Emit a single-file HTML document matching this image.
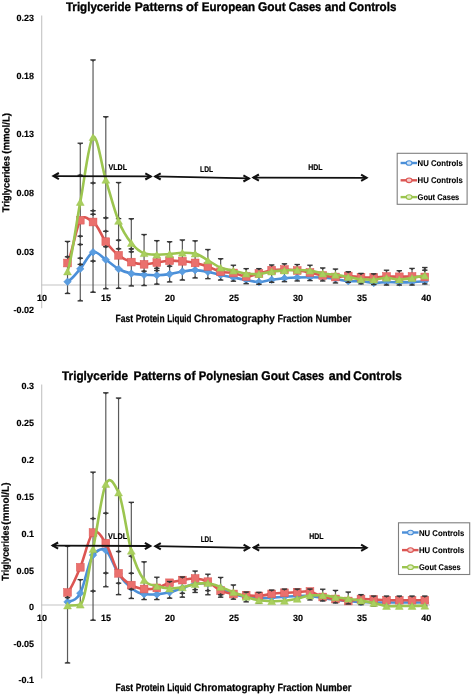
<!DOCTYPE html>
<html><head><meta charset="utf-8"><style>
html,body{margin:0;padding:0;background:#fff;}
body{width:472px;height:695px;overflow:hidden;}
svg{display:block;filter:blur(0.4px);}
text{font-family:"Liberation Sans", sans-serif;font-weight:bold;fill:#000;text-rendering:geometricPrecision;}
.tt{font-size:12.5px;stroke:#000;stroke-width:0.35px;}
.tk{font-size:9px;stroke:#000;stroke-width:0.15px;}
.lb{font-size:8.4px;stroke:#000;stroke-width:0.2px;}
.lg{font-size:8.4px;stroke:#000;stroke-width:0.1px;}
.ax{font-size:10.5px;stroke:#000;stroke-width:0.25px;}
.ay{font-size:10px;stroke:#000;stroke-width:0.25px;}
</style></head><body>
<svg width="472" height="695" viewBox="0 0 472 695">
<rect width="472" height="695" fill="#fff"/>
<line x1="41.7" y1="15.5" x2="41.7" y2="308.2" stroke="#c4c4c4" stroke-width="1.1"/>
<line x1="41.2" y1="285.0" x2="430" y2="285.0" stroke="#c4c4c4" stroke-width="1.1"/>
<text x="34.0" y="20.8" text-anchor="end" class="tk">0.23</text>
<text x="34.0" y="79.0" text-anchor="end" class="tk">0.18</text>
<text x="34.0" y="136.8" text-anchor="end" class="tk">0.13</text>
<text x="34.0" y="196.4" text-anchor="end" class="tk">0.08</text>
<text x="34.0" y="254.8" text-anchor="end" class="tk">0.03</text>
<text x="34.0" y="313.4" text-anchor="end" class="tk">-0.02</text>
<text x="42.0" y="300.7" text-anchor="middle" class="tk">10</text>
<text x="106.0" y="300.7" text-anchor="middle" class="tk">15</text>
<text x="170.0" y="300.7" text-anchor="middle" class="tk">20</text>
<text x="234.1" y="300.7" text-anchor="middle" class="tk">25</text>
<text x="298.1" y="300.7" text-anchor="middle" class="tk">30</text>
<text x="362.1" y="300.7" text-anchor="middle" class="tk">35</text>
<text x="426.2" y="300.7" text-anchor="middle" class="tk">40</text>
<line x1="67.52" y1="241.40" x2="67.52" y2="293.50" stroke="#5a5a5a" stroke-width="1.2"/>
<line x1="80.28" y1="143.20" x2="80.28" y2="300.90" stroke="#5a5a5a" stroke-width="1.2"/>
<line x1="93.04" y1="59.90" x2="93.04" y2="292.30" stroke="#5a5a5a" stroke-width="1.2"/>
<line x1="105.80" y1="116.70" x2="105.80" y2="288.80" stroke="#5a5a5a" stroke-width="1.2"/>
<line x1="118.56" y1="182.50" x2="118.56" y2="288.40" stroke="#5a5a5a" stroke-width="1.2"/>
<line x1="131.32" y1="218.70" x2="131.32" y2="286.00" stroke="#5a5a5a" stroke-width="1.2"/>
<line x1="144.08" y1="234.50" x2="144.08" y2="285.60" stroke="#5a5a5a" stroke-width="1.2"/>
<line x1="156.84" y1="240.60" x2="156.84" y2="284.20" stroke="#5a5a5a" stroke-width="1.2"/>
<line x1="169.60" y1="241.70" x2="169.60" y2="282.00" stroke="#5a5a5a" stroke-width="1.2"/>
<line x1="182.36" y1="239.90" x2="182.36" y2="280.10" stroke="#5a5a5a" stroke-width="1.2"/>
<line x1="195.12" y1="240.80" x2="195.12" y2="278.00" stroke="#5a5a5a" stroke-width="1.2"/>
<line x1="207.88" y1="249.50" x2="207.88" y2="278.70" stroke="#5a5a5a" stroke-width="1.2"/>
<line x1="220.64" y1="258.70" x2="220.64" y2="280.10" stroke="#5a5a5a" stroke-width="1.2"/>
<line x1="233.40" y1="265.20" x2="233.40" y2="281.20" stroke="#5a5a5a" stroke-width="1.2"/>
<line x1="246.16" y1="268.60" x2="246.16" y2="283.70" stroke="#5a5a5a" stroke-width="1.2"/>
<line x1="258.92" y1="268.60" x2="258.92" y2="284.40" stroke="#5a5a5a" stroke-width="1.2"/>
<line x1="271.68" y1="264.90" x2="271.68" y2="282.40" stroke="#5a5a5a" stroke-width="1.2"/>
<line x1="284.44" y1="263.80" x2="284.44" y2="281.70" stroke="#5a5a5a" stroke-width="1.2"/>
<line x1="297.20" y1="264.50" x2="297.20" y2="281.00" stroke="#5a5a5a" stroke-width="1.2"/>
<line x1="309.96" y1="265.20" x2="309.96" y2="280.60" stroke="#5a5a5a" stroke-width="1.2"/>
<line x1="322.72" y1="267.90" x2="322.72" y2="281.00" stroke="#5a5a5a" stroke-width="1.2"/>
<line x1="335.48" y1="269.00" x2="335.48" y2="283.00" stroke="#5a5a5a" stroke-width="1.2"/>
<line x1="348.24" y1="271.70" x2="348.24" y2="282.40" stroke="#5a5a5a" stroke-width="1.2"/>
<line x1="361.00" y1="273.40" x2="361.00" y2="283.90" stroke="#5a5a5a" stroke-width="1.2"/>
<line x1="373.76" y1="273.80" x2="373.76" y2="284.60" stroke="#5a5a5a" stroke-width="1.2"/>
<line x1="386.52" y1="270.20" x2="386.52" y2="285.10" stroke="#5a5a5a" stroke-width="1.2"/>
<line x1="399.28" y1="270.70" x2="399.28" y2="285.10" stroke="#5a5a5a" stroke-width="1.2"/>
<line x1="412.04" y1="268.40" x2="412.04" y2="285.10" stroke="#5a5a5a" stroke-width="1.2"/>
<line x1="424.80" y1="267.50" x2="424.80" y2="284.00" stroke="#5a5a5a" stroke-width="1.2"/>
<path d="M67.52,281.80 C71.77,279.63 76.03,273.73 80.28,268.80 C84.53,263.87 88.79,253.72 93.04,252.20 C97.29,250.68 101.55,256.90 105.80,259.70 C110.05,262.50 114.31,266.68 118.56,269.00 C122.81,271.32 127.07,272.63 131.32,273.60 C135.57,274.57 139.83,274.53 144.08,274.80 C148.33,275.07 152.59,275.32 156.84,275.20 C161.09,275.08 165.35,274.72 169.60,274.10 C173.85,273.48 178.11,272.17 182.36,271.50 C186.61,270.83 190.87,270.05 195.12,270.10 C199.37,270.15 203.63,270.98 207.88,271.80 C212.13,272.62 216.39,274.05 220.64,275.00 C224.89,275.95 229.15,276.67 233.40,277.50 C237.65,278.33 241.91,279.25 246.16,280.00 C250.41,280.75 254.67,282.03 258.92,282.00 C263.17,281.97 267.43,280.42 271.68,279.80 C275.93,279.18 280.19,278.68 284.44,278.30 C288.69,277.92 292.95,277.67 297.20,277.50 C301.45,277.33 305.71,277.30 309.96,277.30 C314.21,277.30 318.47,277.30 322.72,277.50 C326.97,277.70 331.23,278.38 335.48,279.00 C339.73,279.62 343.99,280.83 348.24,281.20 C352.49,281.57 356.75,280.90 361.00,281.20 C365.25,281.50 369.51,282.87 373.76,283.00 C378.01,283.13 382.27,282.10 386.52,282.00 C390.77,281.90 395.03,282.40 399.28,282.40 C403.53,282.40 407.79,282.18 412.04,282.00 C416.29,281.82 420.55,281.42 424.80,281.30" fill="none" stroke="#4b8fd8" stroke-width="2.6" stroke-linejoin="round"/>
<path d="M67.52,278.00 L71.32,281.80 L67.52,285.60 L63.72,281.80 Z" fill="#5a9de0" stroke="#4b8fd8" stroke-width="0.5"/>
<path d="M80.28,265.00 L84.08,268.80 L80.28,272.60 L76.48,268.80 Z" fill="#5a9de0" stroke="#4b8fd8" stroke-width="0.5"/>
<path d="M93.04,248.40 L96.84,252.20 L93.04,256.00 L89.24,252.20 Z" fill="#5a9de0" stroke="#4b8fd8" stroke-width="0.5"/>
<path d="M105.80,255.90 L109.60,259.70 L105.80,263.50 L102.00,259.70 Z" fill="#5a9de0" stroke="#4b8fd8" stroke-width="0.5"/>
<path d="M118.56,265.20 L122.36,269.00 L118.56,272.80 L114.76,269.00 Z" fill="#5a9de0" stroke="#4b8fd8" stroke-width="0.5"/>
<path d="M131.32,269.80 L135.12,273.60 L131.32,277.40 L127.52,273.60 Z" fill="#5a9de0" stroke="#4b8fd8" stroke-width="0.5"/>
<path d="M144.08,271.00 L147.88,274.80 L144.08,278.60 L140.28,274.80 Z" fill="#5a9de0" stroke="#4b8fd8" stroke-width="0.5"/>
<path d="M156.84,271.40 L160.64,275.20 L156.84,279.00 L153.04,275.20 Z" fill="#5a9de0" stroke="#4b8fd8" stroke-width="0.5"/>
<path d="M169.60,270.30 L173.40,274.10 L169.60,277.90 L165.80,274.10 Z" fill="#5a9de0" stroke="#4b8fd8" stroke-width="0.5"/>
<path d="M182.36,267.70 L186.16,271.50 L182.36,275.30 L178.56,271.50 Z" fill="#5a9de0" stroke="#4b8fd8" stroke-width="0.5"/>
<path d="M195.12,266.30 L198.92,270.10 L195.12,273.90 L191.32,270.10 Z" fill="#5a9de0" stroke="#4b8fd8" stroke-width="0.5"/>
<path d="M207.88,268.00 L211.68,271.80 L207.88,275.60 L204.08,271.80 Z" fill="#5a9de0" stroke="#4b8fd8" stroke-width="0.5"/>
<path d="M220.64,271.20 L224.44,275.00 L220.64,278.80 L216.84,275.00 Z" fill="#5a9de0" stroke="#4b8fd8" stroke-width="0.5"/>
<path d="M233.40,273.70 L237.20,277.50 L233.40,281.30 L229.60,277.50 Z" fill="#5a9de0" stroke="#4b8fd8" stroke-width="0.5"/>
<path d="M246.16,276.20 L249.96,280.00 L246.16,283.80 L242.36,280.00 Z" fill="#5a9de0" stroke="#4b8fd8" stroke-width="0.5"/>
<path d="M258.92,278.20 L262.72,282.00 L258.92,285.80 L255.12,282.00 Z" fill="#5a9de0" stroke="#4b8fd8" stroke-width="0.5"/>
<path d="M271.68,276.00 L275.48,279.80 L271.68,283.60 L267.88,279.80 Z" fill="#5a9de0" stroke="#4b8fd8" stroke-width="0.5"/>
<path d="M284.44,274.50 L288.24,278.30 L284.44,282.10 L280.64,278.30 Z" fill="#5a9de0" stroke="#4b8fd8" stroke-width="0.5"/>
<path d="M297.20,273.70 L301.00,277.50 L297.20,281.30 L293.40,277.50 Z" fill="#5a9de0" stroke="#4b8fd8" stroke-width="0.5"/>
<path d="M309.96,273.50 L313.76,277.30 L309.96,281.10 L306.16,277.30 Z" fill="#5a9de0" stroke="#4b8fd8" stroke-width="0.5"/>
<path d="M322.72,273.70 L326.52,277.50 L322.72,281.30 L318.92,277.50 Z" fill="#5a9de0" stroke="#4b8fd8" stroke-width="0.5"/>
<path d="M335.48,275.20 L339.28,279.00 L335.48,282.80 L331.68,279.00 Z" fill="#5a9de0" stroke="#4b8fd8" stroke-width="0.5"/>
<path d="M348.24,277.40 L352.04,281.20 L348.24,285.00 L344.44,281.20 Z" fill="#5a9de0" stroke="#4b8fd8" stroke-width="0.5"/>
<path d="M361.00,277.40 L364.80,281.20 L361.00,285.00 L357.20,281.20 Z" fill="#5a9de0" stroke="#4b8fd8" stroke-width="0.5"/>
<path d="M373.76,279.20 L377.56,283.00 L373.76,286.80 L369.96,283.00 Z" fill="#5a9de0" stroke="#4b8fd8" stroke-width="0.5"/>
<path d="M386.52,278.20 L390.32,282.00 L386.52,285.80 L382.72,282.00 Z" fill="#5a9de0" stroke="#4b8fd8" stroke-width="0.5"/>
<path d="M399.28,278.60 L403.08,282.40 L399.28,286.20 L395.48,282.40 Z" fill="#5a9de0" stroke="#4b8fd8" stroke-width="0.5"/>
<path d="M412.04,278.20 L415.84,282.00 L412.04,285.80 L408.24,282.00 Z" fill="#5a9de0" stroke="#4b8fd8" stroke-width="0.5"/>
<path d="M424.80,277.50 L428.60,281.30 L424.80,285.10 L421.00,281.30 Z" fill="#5a9de0" stroke="#4b8fd8" stroke-width="0.5"/>
<path d="M67.52,263.00 C71.77,255.87 76.03,227.03 80.28,220.20 C84.53,213.37 88.79,220.20 93.04,222.00 C97.29,223.80 101.55,236.15 105.80,241.70 C110.05,247.25 114.31,251.90 118.56,255.30 C122.81,258.70 127.07,260.60 131.32,262.10 C135.57,263.60 139.83,264.22 144.08,264.30 C148.33,264.38 152.59,263.20 156.84,262.60 C161.09,262.00 165.35,260.92 169.60,260.70 C173.85,260.48 178.11,260.93 182.36,261.30 C186.61,261.67 190.87,262.03 195.12,262.90 C199.37,263.77 203.63,265.02 207.88,266.50 C212.13,267.98 216.39,270.72 220.64,271.80 C224.89,272.88 229.15,272.22 233.40,273.00 C237.65,273.78 241.91,276.42 246.16,276.50 C250.41,276.58 254.67,274.55 258.92,273.50 C263.17,272.45 267.43,270.87 271.68,270.20 C275.93,269.53 280.19,269.45 284.44,269.50 C288.69,269.55 292.95,270.00 297.20,270.50 C301.45,271.00 305.71,271.67 309.96,272.50 C314.21,273.33 318.47,274.75 322.72,275.50 C326.97,276.25 331.23,276.92 335.48,277.00 C339.73,277.08 343.99,275.97 348.24,276.00 C352.49,276.03 356.75,277.00 361.00,277.20 C365.25,277.40 369.51,277.52 373.76,277.40 C378.01,277.28 382.27,276.60 386.52,276.50 C390.77,276.40 395.03,276.80 399.28,276.80 C403.53,276.80 407.79,276.47 412.04,276.50 C416.29,276.53 420.55,276.92 424.80,277.00" fill="none" stroke="#dc5552" stroke-width="2.6" stroke-linejoin="round"/>
<rect x="63.62" y="259.10" width="7.80" height="7.80" fill="#ea706d" stroke="#dc5552" stroke-width="0.5"/>
<rect x="76.38" y="216.30" width="7.80" height="7.80" fill="#ea706d" stroke="#dc5552" stroke-width="0.5"/>
<rect x="89.14" y="218.10" width="7.80" height="7.80" fill="#ea706d" stroke="#dc5552" stroke-width="0.5"/>
<rect x="101.90" y="237.80" width="7.80" height="7.80" fill="#ea706d" stroke="#dc5552" stroke-width="0.5"/>
<rect x="114.66" y="251.40" width="7.80" height="7.80" fill="#ea706d" stroke="#dc5552" stroke-width="0.5"/>
<rect x="127.42" y="258.20" width="7.80" height="7.80" fill="#ea706d" stroke="#dc5552" stroke-width="0.5"/>
<rect x="140.18" y="260.40" width="7.80" height="7.80" fill="#ea706d" stroke="#dc5552" stroke-width="0.5"/>
<rect x="152.94" y="258.70" width="7.80" height="7.80" fill="#ea706d" stroke="#dc5552" stroke-width="0.5"/>
<rect x="165.70" y="256.80" width="7.80" height="7.80" fill="#ea706d" stroke="#dc5552" stroke-width="0.5"/>
<rect x="178.46" y="257.40" width="7.80" height="7.80" fill="#ea706d" stroke="#dc5552" stroke-width="0.5"/>
<rect x="191.22" y="259.00" width="7.80" height="7.80" fill="#ea706d" stroke="#dc5552" stroke-width="0.5"/>
<rect x="203.98" y="262.60" width="7.80" height="7.80" fill="#ea706d" stroke="#dc5552" stroke-width="0.5"/>
<rect x="216.74" y="267.90" width="7.80" height="7.80" fill="#ea706d" stroke="#dc5552" stroke-width="0.5"/>
<rect x="229.50" y="269.10" width="7.80" height="7.80" fill="#ea706d" stroke="#dc5552" stroke-width="0.5"/>
<rect x="242.26" y="272.60" width="7.80" height="7.80" fill="#ea706d" stroke="#dc5552" stroke-width="0.5"/>
<rect x="255.02" y="269.60" width="7.80" height="7.80" fill="#ea706d" stroke="#dc5552" stroke-width="0.5"/>
<rect x="267.78" y="266.30" width="7.80" height="7.80" fill="#ea706d" stroke="#dc5552" stroke-width="0.5"/>
<rect x="280.54" y="265.60" width="7.80" height="7.80" fill="#ea706d" stroke="#dc5552" stroke-width="0.5"/>
<rect x="293.30" y="266.60" width="7.80" height="7.80" fill="#ea706d" stroke="#dc5552" stroke-width="0.5"/>
<rect x="306.06" y="268.60" width="7.80" height="7.80" fill="#ea706d" stroke="#dc5552" stroke-width="0.5"/>
<rect x="318.82" y="271.60" width="7.80" height="7.80" fill="#ea706d" stroke="#dc5552" stroke-width="0.5"/>
<rect x="331.58" y="273.10" width="7.80" height="7.80" fill="#ea706d" stroke="#dc5552" stroke-width="0.5"/>
<rect x="344.34" y="272.10" width="7.80" height="7.80" fill="#ea706d" stroke="#dc5552" stroke-width="0.5"/>
<rect x="357.10" y="273.30" width="7.80" height="7.80" fill="#ea706d" stroke="#dc5552" stroke-width="0.5"/>
<rect x="369.86" y="273.50" width="7.80" height="7.80" fill="#ea706d" stroke="#dc5552" stroke-width="0.5"/>
<rect x="382.62" y="272.60" width="7.80" height="7.80" fill="#ea706d" stroke="#dc5552" stroke-width="0.5"/>
<rect x="395.38" y="272.90" width="7.80" height="7.80" fill="#ea706d" stroke="#dc5552" stroke-width="0.5"/>
<rect x="408.14" y="272.60" width="7.80" height="7.80" fill="#ea706d" stroke="#dc5552" stroke-width="0.5"/>
<rect x="420.90" y="273.10" width="7.80" height="7.80" fill="#ea706d" stroke="#dc5552" stroke-width="0.5"/>
<line x1="64.82" y1="241.40" x2="70.22" y2="241.40" stroke="#333" stroke-width="1.3"/>
<path d="M65.32,241.40 L69.72,241.40 L67.52,243.20 Z" fill="#3a3a3a"/>
<line x1="64.82" y1="256.80" x2="70.22" y2="256.80" stroke="#333" stroke-width="1.3"/>
<path d="M65.32,256.80 L69.72,256.80 L67.52,258.60 Z" fill="#3a3a3a"/>
<path d="M65.32,256.80 L69.72,256.80 L67.52,255.00 Z" fill="#3a3a3a"/>
<line x1="64.82" y1="293.50" x2="70.22" y2="293.50" stroke="#333" stroke-width="1.3"/>
<path d="M65.32,293.50 L69.72,293.50 L67.52,291.70 Z" fill="#3a3a3a"/>
<line x1="77.58" y1="143.20" x2="82.98" y2="143.20" stroke="#333" stroke-width="1.3"/>
<path d="M78.08,143.20 L82.48,143.20 L80.28,145.00 Z" fill="#3a3a3a"/>
<line x1="77.58" y1="175.30" x2="82.98" y2="175.30" stroke="#333" stroke-width="1.3"/>
<path d="M78.08,175.30 L82.48,175.30 L80.28,177.10 Z" fill="#3a3a3a"/>
<path d="M78.08,175.30 L82.48,175.30 L80.28,173.50 Z" fill="#3a3a3a"/>
<line x1="77.58" y1="236.20" x2="82.98" y2="236.20" stroke="#333" stroke-width="1.3"/>
<path d="M78.08,236.20 L82.48,236.20 L80.28,238.00 Z" fill="#3a3a3a"/>
<path d="M78.08,236.20 L82.48,236.20 L80.28,234.40 Z" fill="#3a3a3a"/>
<line x1="77.58" y1="244.50" x2="82.98" y2="244.50" stroke="#333" stroke-width="1.3"/>
<path d="M78.08,244.50 L82.48,244.50 L80.28,246.30 Z" fill="#3a3a3a"/>
<path d="M78.08,244.50 L82.48,244.50 L80.28,242.70 Z" fill="#3a3a3a"/>
<line x1="77.58" y1="258.20" x2="82.98" y2="258.20" stroke="#333" stroke-width="1.3"/>
<path d="M78.08,258.20 L82.48,258.20 L80.28,260.00 Z" fill="#3a3a3a"/>
<path d="M78.08,258.20 L82.48,258.20 L80.28,256.40 Z" fill="#3a3a3a"/>
<line x1="77.58" y1="264.40" x2="82.98" y2="264.40" stroke="#333" stroke-width="1.3"/>
<path d="M78.08,264.40 L82.48,264.40 L80.28,266.20 Z" fill="#3a3a3a"/>
<path d="M78.08,264.40 L82.48,264.40 L80.28,262.60 Z" fill="#3a3a3a"/>
<line x1="77.58" y1="300.90" x2="82.98" y2="300.90" stroke="#333" stroke-width="1.3"/>
<path d="M78.08,300.90 L82.48,300.90 L80.28,299.10 Z" fill="#3a3a3a"/>
<line x1="90.34" y1="59.90" x2="95.74" y2="59.90" stroke="#333" stroke-width="1.3"/>
<path d="M90.84,59.90 L95.24,59.90 L93.04,61.70 Z" fill="#3a3a3a"/>
<line x1="90.34" y1="183.00" x2="95.74" y2="183.00" stroke="#333" stroke-width="1.3"/>
<path d="M90.84,183.00 L95.24,183.00 L93.04,184.80 Z" fill="#3a3a3a"/>
<path d="M90.84,183.00 L95.24,183.00 L93.04,181.20 Z" fill="#3a3a3a"/>
<line x1="90.34" y1="210.70" x2="95.74" y2="210.70" stroke="#333" stroke-width="1.3"/>
<path d="M90.84,210.70 L95.24,210.70 L93.04,212.50 Z" fill="#3a3a3a"/>
<path d="M90.84,210.70 L95.24,210.70 L93.04,208.90 Z" fill="#3a3a3a"/>
<line x1="90.34" y1="214.30" x2="95.74" y2="214.30" stroke="#333" stroke-width="1.3"/>
<path d="M90.84,214.30 L95.24,214.30 L93.04,216.10 Z" fill="#3a3a3a"/>
<path d="M90.84,214.30 L95.24,214.30 L93.04,212.50 Z" fill="#3a3a3a"/>
<line x1="90.34" y1="261.10" x2="95.74" y2="261.10" stroke="#333" stroke-width="1.3"/>
<path d="M90.84,261.10 L95.24,261.10 L93.04,262.90 Z" fill="#3a3a3a"/>
<path d="M90.84,261.10 L95.24,261.10 L93.04,259.30 Z" fill="#3a3a3a"/>
<line x1="90.34" y1="292.30" x2="95.74" y2="292.30" stroke="#333" stroke-width="1.3"/>
<path d="M90.84,292.30 L95.24,292.30 L93.04,290.50 Z" fill="#3a3a3a"/>
<line x1="103.10" y1="116.70" x2="108.50" y2="116.70" stroke="#333" stroke-width="1.3"/>
<path d="M103.60,116.70 L108.00,116.70 L105.80,118.50 Z" fill="#3a3a3a"/>
<line x1="103.10" y1="217.90" x2="108.50" y2="217.90" stroke="#333" stroke-width="1.3"/>
<path d="M103.60,217.90 L108.00,217.90 L105.80,219.70 Z" fill="#3a3a3a"/>
<path d="M103.60,217.90 L108.00,217.90 L105.80,216.10 Z" fill="#3a3a3a"/>
<line x1="103.10" y1="231.30" x2="108.50" y2="231.30" stroke="#333" stroke-width="1.3"/>
<path d="M103.60,231.30 L108.00,231.30 L105.80,233.10 Z" fill="#3a3a3a"/>
<path d="M103.60,231.30 L108.00,231.30 L105.80,229.50 Z" fill="#3a3a3a"/>
<line x1="103.10" y1="246.70" x2="108.50" y2="246.70" stroke="#333" stroke-width="1.3"/>
<path d="M103.60,246.70 L108.00,246.70 L105.80,248.50 Z" fill="#3a3a3a"/>
<path d="M103.60,246.70 L108.00,246.70 L105.80,244.90 Z" fill="#3a3a3a"/>
<line x1="103.10" y1="288.80" x2="108.50" y2="288.80" stroke="#333" stroke-width="1.3"/>
<path d="M103.60,288.80 L108.00,288.80 L105.80,287.00 Z" fill="#3a3a3a"/>
<line x1="115.86" y1="182.50" x2="121.26" y2="182.50" stroke="#333" stroke-width="1.3"/>
<path d="M116.36,182.50 L120.76,182.50 L118.56,184.30 Z" fill="#3a3a3a"/>
<line x1="115.86" y1="218.60" x2="121.26" y2="218.60" stroke="#333" stroke-width="1.3"/>
<path d="M116.36,218.60 L120.76,218.60 L118.56,220.40 Z" fill="#3a3a3a"/>
<path d="M116.36,218.60 L120.76,218.60 L118.56,216.80 Z" fill="#3a3a3a"/>
<line x1="115.86" y1="240.20" x2="121.26" y2="240.20" stroke="#333" stroke-width="1.3"/>
<path d="M116.36,240.20 L120.76,240.20 L118.56,242.00 Z" fill="#3a3a3a"/>
<path d="M116.36,240.20 L120.76,240.20 L118.56,238.40 Z" fill="#3a3a3a"/>
<line x1="115.86" y1="248.80" x2="121.26" y2="248.80" stroke="#333" stroke-width="1.3"/>
<path d="M116.36,248.80 L120.76,248.80 L118.56,250.60 Z" fill="#3a3a3a"/>
<path d="M116.36,248.80 L120.76,248.80 L118.56,247.00 Z" fill="#3a3a3a"/>
<line x1="115.86" y1="288.40" x2="121.26" y2="288.40" stroke="#333" stroke-width="1.3"/>
<path d="M116.36,288.40 L120.76,288.40 L118.56,286.60 Z" fill="#3a3a3a"/>
<line x1="128.62" y1="218.70" x2="134.02" y2="218.70" stroke="#333" stroke-width="1.3"/>
<path d="M129.12,218.70 L133.52,218.70 L131.32,220.50 Z" fill="#3a3a3a"/>
<line x1="128.62" y1="248.90" x2="134.02" y2="248.90" stroke="#333" stroke-width="1.3"/>
<path d="M129.12,248.90 L133.52,248.90 L131.32,250.70 Z" fill="#3a3a3a"/>
<path d="M129.12,248.90 L133.52,248.90 L131.32,247.10 Z" fill="#3a3a3a"/>
<line x1="128.62" y1="251.80" x2="134.02" y2="251.80" stroke="#333" stroke-width="1.3"/>
<path d="M129.12,251.80 L133.52,251.80 L131.32,253.60 Z" fill="#3a3a3a"/>
<path d="M129.12,251.80 L133.52,251.80 L131.32,250.00 Z" fill="#3a3a3a"/>
<line x1="128.62" y1="286.00" x2="134.02" y2="286.00" stroke="#333" stroke-width="1.3"/>
<path d="M129.12,286.00 L133.52,286.00 L131.32,284.20 Z" fill="#3a3a3a"/>
<line x1="141.38" y1="234.50" x2="146.78" y2="234.50" stroke="#333" stroke-width="1.3"/>
<path d="M141.88,234.50 L146.28,234.50 L144.08,236.30 Z" fill="#3a3a3a"/>
<line x1="141.38" y1="271.20" x2="146.78" y2="271.20" stroke="#333" stroke-width="1.3"/>
<path d="M141.88,271.20 L146.28,271.20 L144.08,273.00 Z" fill="#3a3a3a"/>
<path d="M141.88,271.20 L146.28,271.20 L144.08,269.40 Z" fill="#3a3a3a"/>
<line x1="141.38" y1="285.60" x2="146.78" y2="285.60" stroke="#333" stroke-width="1.3"/>
<path d="M141.88,285.60 L146.28,285.60 L144.08,283.80 Z" fill="#3a3a3a"/>
<line x1="154.14" y1="240.60" x2="159.54" y2="240.60" stroke="#333" stroke-width="1.3"/>
<path d="M154.64,240.60 L159.04,240.60 L156.84,242.40 Z" fill="#3a3a3a"/>
<line x1="154.14" y1="268.30" x2="159.54" y2="268.30" stroke="#333" stroke-width="1.3"/>
<path d="M154.64,268.30 L159.04,268.30 L156.84,270.10 Z" fill="#3a3a3a"/>
<path d="M154.64,268.30 L159.04,268.30 L156.84,266.50 Z" fill="#3a3a3a"/>
<line x1="154.14" y1="270.50" x2="159.54" y2="270.50" stroke="#333" stroke-width="1.3"/>
<path d="M154.64,270.50 L159.04,270.50 L156.84,272.30 Z" fill="#3a3a3a"/>
<path d="M154.64,270.50 L159.04,270.50 L156.84,268.70 Z" fill="#3a3a3a"/>
<line x1="154.14" y1="284.20" x2="159.54" y2="284.20" stroke="#333" stroke-width="1.3"/>
<path d="M154.64,284.20 L159.04,284.20 L156.84,282.40 Z" fill="#3a3a3a"/>
<line x1="166.90" y1="241.70" x2="172.30" y2="241.70" stroke="#333" stroke-width="1.3"/>
<path d="M167.40,241.70 L171.80,241.70 L169.60,243.50 Z" fill="#3a3a3a"/>
<line x1="166.90" y1="266.20" x2="172.30" y2="266.20" stroke="#333" stroke-width="1.3"/>
<path d="M167.40,266.20 L171.80,266.20 L169.60,268.00 Z" fill="#3a3a3a"/>
<path d="M167.40,266.20 L171.80,266.20 L169.60,264.40 Z" fill="#3a3a3a"/>
<line x1="166.90" y1="282.00" x2="172.30" y2="282.00" stroke="#333" stroke-width="1.3"/>
<path d="M167.40,282.00 L171.80,282.00 L169.60,280.20 Z" fill="#3a3a3a"/>
<line x1="179.66" y1="239.90" x2="185.06" y2="239.90" stroke="#333" stroke-width="1.3"/>
<path d="M180.16,239.90 L184.56,239.90 L182.36,241.70 Z" fill="#3a3a3a"/>
<line x1="179.66" y1="280.10" x2="185.06" y2="280.10" stroke="#333" stroke-width="1.3"/>
<path d="M180.16,280.10 L184.56,280.10 L182.36,278.30 Z" fill="#3a3a3a"/>
<line x1="192.42" y1="240.80" x2="197.82" y2="240.80" stroke="#333" stroke-width="1.3"/>
<path d="M192.92,240.80 L197.32,240.80 L195.12,242.60 Z" fill="#3a3a3a"/>
<line x1="192.42" y1="278.00" x2="197.82" y2="278.00" stroke="#333" stroke-width="1.3"/>
<path d="M192.92,278.00 L197.32,278.00 L195.12,276.20 Z" fill="#3a3a3a"/>
<line x1="205.18" y1="249.50" x2="210.58" y2="249.50" stroke="#333" stroke-width="1.3"/>
<path d="M205.68,249.50 L210.08,249.50 L207.88,251.30 Z" fill="#3a3a3a"/>
<line x1="205.18" y1="278.70" x2="210.58" y2="278.70" stroke="#333" stroke-width="1.3"/>
<path d="M205.68,278.70 L210.08,278.70 L207.88,276.90 Z" fill="#3a3a3a"/>
<line x1="217.94" y1="258.70" x2="223.34" y2="258.70" stroke="#333" stroke-width="1.3"/>
<path d="M218.44,258.70 L222.84,258.70 L220.64,260.50 Z" fill="#3a3a3a"/>
<line x1="217.94" y1="280.10" x2="223.34" y2="280.10" stroke="#333" stroke-width="1.3"/>
<path d="M218.44,280.10 L222.84,280.10 L220.64,278.30 Z" fill="#3a3a3a"/>
<line x1="230.70" y1="265.20" x2="236.10" y2="265.20" stroke="#333" stroke-width="1.3"/>
<path d="M231.20,265.20 L235.60,265.20 L233.40,267.00 Z" fill="#3a3a3a"/>
<line x1="230.70" y1="281.20" x2="236.10" y2="281.20" stroke="#333" stroke-width="1.3"/>
<path d="M231.20,281.20 L235.60,281.20 L233.40,279.40 Z" fill="#3a3a3a"/>
<line x1="243.46" y1="268.60" x2="248.86" y2="268.60" stroke="#333" stroke-width="1.3"/>
<path d="M243.96,268.60 L248.36,268.60 L246.16,270.40 Z" fill="#3a3a3a"/>
<line x1="243.46" y1="283.70" x2="248.86" y2="283.70" stroke="#333" stroke-width="1.3"/>
<path d="M243.96,283.70 L248.36,283.70 L246.16,281.90 Z" fill="#3a3a3a"/>
<line x1="256.22" y1="268.60" x2="261.62" y2="268.60" stroke="#333" stroke-width="1.3"/>
<path d="M256.72,268.60 L261.12,268.60 L258.92,270.40 Z" fill="#3a3a3a"/>
<line x1="256.22" y1="284.40" x2="261.62" y2="284.40" stroke="#333" stroke-width="1.3"/>
<path d="M256.72,284.40 L261.12,284.40 L258.92,282.60 Z" fill="#3a3a3a"/>
<line x1="268.98" y1="264.90" x2="274.38" y2="264.90" stroke="#333" stroke-width="1.3"/>
<path d="M269.48,264.90 L273.88,264.90 L271.68,266.70 Z" fill="#3a3a3a"/>
<line x1="268.98" y1="282.40" x2="274.38" y2="282.40" stroke="#333" stroke-width="1.3"/>
<path d="M269.48,282.40 L273.88,282.40 L271.68,280.60 Z" fill="#3a3a3a"/>
<line x1="281.74" y1="263.80" x2="287.14" y2="263.80" stroke="#333" stroke-width="1.3"/>
<path d="M282.24,263.80 L286.64,263.80 L284.44,265.60 Z" fill="#3a3a3a"/>
<line x1="281.74" y1="281.70" x2="287.14" y2="281.70" stroke="#333" stroke-width="1.3"/>
<path d="M282.24,281.70 L286.64,281.70 L284.44,279.90 Z" fill="#3a3a3a"/>
<line x1="294.50" y1="264.50" x2="299.90" y2="264.50" stroke="#333" stroke-width="1.3"/>
<path d="M295.00,264.50 L299.40,264.50 L297.20,266.30 Z" fill="#3a3a3a"/>
<line x1="294.50" y1="281.00" x2="299.90" y2="281.00" stroke="#333" stroke-width="1.3"/>
<path d="M295.00,281.00 L299.40,281.00 L297.20,279.20 Z" fill="#3a3a3a"/>
<line x1="307.26" y1="265.20" x2="312.66" y2="265.20" stroke="#333" stroke-width="1.3"/>
<path d="M307.76,265.20 L312.16,265.20 L309.96,267.00 Z" fill="#3a3a3a"/>
<line x1="307.26" y1="280.60" x2="312.66" y2="280.60" stroke="#333" stroke-width="1.3"/>
<path d="M307.76,280.60 L312.16,280.60 L309.96,278.80 Z" fill="#3a3a3a"/>
<line x1="320.02" y1="267.90" x2="325.42" y2="267.90" stroke="#333" stroke-width="1.3"/>
<path d="M320.52,267.90 L324.92,267.90 L322.72,269.70 Z" fill="#3a3a3a"/>
<line x1="320.02" y1="281.00" x2="325.42" y2="281.00" stroke="#333" stroke-width="1.3"/>
<path d="M320.52,281.00 L324.92,281.00 L322.72,279.20 Z" fill="#3a3a3a"/>
<line x1="332.78" y1="269.00" x2="338.18" y2="269.00" stroke="#333" stroke-width="1.3"/>
<path d="M333.28,269.00 L337.68,269.00 L335.48,270.80 Z" fill="#3a3a3a"/>
<line x1="332.78" y1="283.00" x2="338.18" y2="283.00" stroke="#333" stroke-width="1.3"/>
<path d="M333.28,283.00 L337.68,283.00 L335.48,281.20 Z" fill="#3a3a3a"/>
<line x1="345.54" y1="271.70" x2="350.94" y2="271.70" stroke="#333" stroke-width="1.3"/>
<path d="M346.04,271.70 L350.44,271.70 L348.24,273.50 Z" fill="#3a3a3a"/>
<line x1="345.54" y1="282.40" x2="350.94" y2="282.40" stroke="#333" stroke-width="1.3"/>
<path d="M346.04,282.40 L350.44,282.40 L348.24,280.60 Z" fill="#3a3a3a"/>
<line x1="358.30" y1="273.40" x2="363.70" y2="273.40" stroke="#333" stroke-width="1.3"/>
<path d="M358.80,273.40 L363.20,273.40 L361.00,275.20 Z" fill="#3a3a3a"/>
<line x1="358.30" y1="283.90" x2="363.70" y2="283.90" stroke="#333" stroke-width="1.3"/>
<path d="M358.80,283.90 L363.20,283.90 L361.00,282.10 Z" fill="#3a3a3a"/>
<line x1="371.06" y1="273.80" x2="376.46" y2="273.80" stroke="#333" stroke-width="1.3"/>
<path d="M371.56,273.80 L375.96,273.80 L373.76,275.60 Z" fill="#3a3a3a"/>
<line x1="371.06" y1="284.60" x2="376.46" y2="284.60" stroke="#333" stroke-width="1.3"/>
<path d="M371.56,284.60 L375.96,284.60 L373.76,282.80 Z" fill="#3a3a3a"/>
<line x1="383.82" y1="270.20" x2="389.22" y2="270.20" stroke="#333" stroke-width="1.3"/>
<path d="M384.32,270.20 L388.72,270.20 L386.52,272.00 Z" fill="#3a3a3a"/>
<line x1="383.82" y1="285.10" x2="389.22" y2="285.10" stroke="#333" stroke-width="1.3"/>
<path d="M384.32,285.10 L388.72,285.10 L386.52,283.30 Z" fill="#3a3a3a"/>
<line x1="396.58" y1="270.70" x2="401.98" y2="270.70" stroke="#333" stroke-width="1.3"/>
<path d="M397.08,270.70 L401.48,270.70 L399.28,272.50 Z" fill="#3a3a3a"/>
<line x1="396.58" y1="285.10" x2="401.98" y2="285.10" stroke="#333" stroke-width="1.3"/>
<path d="M397.08,285.10 L401.48,285.10 L399.28,283.30 Z" fill="#3a3a3a"/>
<line x1="409.34" y1="268.40" x2="414.74" y2="268.40" stroke="#333" stroke-width="1.3"/>
<path d="M409.84,268.40 L414.24,268.40 L412.04,270.20 Z" fill="#3a3a3a"/>
<line x1="409.34" y1="285.10" x2="414.74" y2="285.10" stroke="#333" stroke-width="1.3"/>
<path d="M409.84,285.10 L414.24,285.10 L412.04,283.30 Z" fill="#3a3a3a"/>
<line x1="422.10" y1="267.50" x2="427.50" y2="267.50" stroke="#333" stroke-width="1.3"/>
<path d="M422.60,267.50 L427.00,267.50 L424.80,269.30 Z" fill="#3a3a3a"/>
<line x1="422.10" y1="270.20" x2="427.50" y2="270.20" stroke="#333" stroke-width="1.3"/>
<path d="M422.60,270.20 L427.00,270.20 L424.80,272.00 Z" fill="#3a3a3a"/>
<path d="M422.60,270.20 L427.00,270.20 L424.80,268.40 Z" fill="#3a3a3a"/>
<line x1="422.10" y1="284.00" x2="427.50" y2="284.00" stroke="#333" stroke-width="1.3"/>
<path d="M422.60,284.00 L427.00,284.00 L424.80,282.20 Z" fill="#3a3a3a"/>
<path d="M67.52,271.50 C71.77,259.92 76.03,224.38 80.28,202.00 C84.53,179.62 88.79,140.90 93.04,137.20 C97.29,133.50 101.55,165.85 105.80,179.80 C110.05,193.75 114.31,210.37 118.56,220.90 C122.81,231.43 127.07,237.62 131.32,243.00 C135.57,248.38 139.83,251.70 144.08,253.20 C148.33,254.70 152.59,254.57 156.84,254.70 C161.09,254.83 165.35,254.32 169.60,254.00 C173.85,253.68 178.11,252.87 182.36,252.80 C186.61,252.73 190.87,252.80 195.12,253.60 C199.37,254.40 203.63,257.95 207.88,260.30 C212.13,262.65 216.39,265.97 220.64,267.70 C224.89,269.43 229.15,269.70 233.40,270.70 C237.65,271.70 241.91,273.40 246.16,273.70 C250.41,274.00 254.67,274.37 258.92,274.00 C263.17,273.63 267.43,272.08 271.68,271.50 C275.93,270.92 280.19,270.75 284.44,270.50 C288.69,270.25 292.95,269.98 297.20,270.00 C301.45,270.02 305.71,270.02 309.96,270.60 C314.21,271.18 318.47,272.80 322.72,273.50 C326.97,274.20 331.23,274.22 335.48,274.80 C339.73,275.38 343.99,276.25 348.24,277.00 C352.49,277.75 356.75,278.90 361.00,279.30 C365.25,279.70 369.51,279.95 373.76,279.70 C378.01,279.45 382.27,277.83 386.52,277.80 C390.77,277.77 395.03,279.47 399.28,279.50 C403.53,279.53 407.79,278.67 412.04,278.00 C416.29,277.33 420.55,275.92 424.80,275.50" fill="none" stroke="#9cc54f" stroke-width="2.6" stroke-linejoin="round"/>
<path d="M67.52,268.10 L71.42,274.90 L63.62,274.90 Z" fill="#a9cf5e" stroke="#9cc54f" stroke-width="0.5"/>
<path d="M80.28,198.60 L84.18,205.40 L76.38,205.40 Z" fill="#a9cf5e" stroke="#9cc54f" stroke-width="0.5"/>
<path d="M93.04,133.80 L96.94,140.60 L89.14,140.60 Z" fill="#a9cf5e" stroke="#9cc54f" stroke-width="0.5"/>
<path d="M105.80,176.40 L109.70,183.20 L101.90,183.20 Z" fill="#a9cf5e" stroke="#9cc54f" stroke-width="0.5"/>
<path d="M118.56,217.50 L122.46,224.30 L114.66,224.30 Z" fill="#a9cf5e" stroke="#9cc54f" stroke-width="0.5"/>
<path d="M131.32,239.60 L135.22,246.40 L127.42,246.40 Z" fill="#a9cf5e" stroke="#9cc54f" stroke-width="0.5"/>
<path d="M144.08,249.80 L147.98,256.60 L140.18,256.60 Z" fill="#a9cf5e" stroke="#9cc54f" stroke-width="0.5"/>
<path d="M156.84,251.30 L160.74,258.10 L152.94,258.10 Z" fill="#a9cf5e" stroke="#9cc54f" stroke-width="0.5"/>
<path d="M169.60,250.60 L173.50,257.40 L165.70,257.40 Z" fill="#a9cf5e" stroke="#9cc54f" stroke-width="0.5"/>
<path d="M182.36,249.40 L186.26,256.20 L178.46,256.20 Z" fill="#a9cf5e" stroke="#9cc54f" stroke-width="0.5"/>
<path d="M195.12,250.20 L199.02,257.00 L191.22,257.00 Z" fill="#a9cf5e" stroke="#9cc54f" stroke-width="0.5"/>
<path d="M207.88,256.90 L211.78,263.70 L203.98,263.70 Z" fill="#a9cf5e" stroke="#9cc54f" stroke-width="0.5"/>
<path d="M220.64,264.30 L224.54,271.10 L216.74,271.10 Z" fill="#a9cf5e" stroke="#9cc54f" stroke-width="0.5"/>
<path d="M233.40,267.30 L237.30,274.10 L229.50,274.10 Z" fill="#a9cf5e" stroke="#9cc54f" stroke-width="0.5"/>
<path d="M246.16,270.30 L250.06,277.10 L242.26,277.10 Z" fill="#a9cf5e" stroke="#9cc54f" stroke-width="0.5"/>
<path d="M258.92,270.60 L262.82,277.40 L255.02,277.40 Z" fill="#a9cf5e" stroke="#9cc54f" stroke-width="0.5"/>
<path d="M271.68,268.10 L275.58,274.90 L267.78,274.90 Z" fill="#a9cf5e" stroke="#9cc54f" stroke-width="0.5"/>
<path d="M284.44,267.10 L288.34,273.90 L280.54,273.90 Z" fill="#a9cf5e" stroke="#9cc54f" stroke-width="0.5"/>
<path d="M297.20,266.60 L301.10,273.40 L293.30,273.40 Z" fill="#a9cf5e" stroke="#9cc54f" stroke-width="0.5"/>
<path d="M309.96,267.20 L313.86,274.00 L306.06,274.00 Z" fill="#a9cf5e" stroke="#9cc54f" stroke-width="0.5"/>
<path d="M322.72,270.10 L326.62,276.90 L318.82,276.90 Z" fill="#a9cf5e" stroke="#9cc54f" stroke-width="0.5"/>
<path d="M335.48,271.40 L339.38,278.20 L331.58,278.20 Z" fill="#a9cf5e" stroke="#9cc54f" stroke-width="0.5"/>
<path d="M348.24,273.60 L352.14,280.40 L344.34,280.40 Z" fill="#a9cf5e" stroke="#9cc54f" stroke-width="0.5"/>
<path d="M361.00,275.90 L364.90,282.70 L357.10,282.70 Z" fill="#a9cf5e" stroke="#9cc54f" stroke-width="0.5"/>
<path d="M373.76,276.30 L377.66,283.10 L369.86,283.10 Z" fill="#a9cf5e" stroke="#9cc54f" stroke-width="0.5"/>
<path d="M386.52,274.40 L390.42,281.20 L382.62,281.20 Z" fill="#a9cf5e" stroke="#9cc54f" stroke-width="0.5"/>
<path d="M399.28,276.10 L403.18,282.90 L395.38,282.90 Z" fill="#a9cf5e" stroke="#9cc54f" stroke-width="0.5"/>
<path d="M412.04,274.60 L415.94,281.40 L408.14,281.40 Z" fill="#a9cf5e" stroke="#9cc54f" stroke-width="0.5"/>
<path d="M424.80,272.10 L428.70,278.90 L420.90,278.90 Z" fill="#a9cf5e" stroke="#9cc54f" stroke-width="0.5"/>
<line x1="53.0" y1="176.1" x2="151.2" y2="176.4" stroke="#111" stroke-width="1.8"/>
<path d="M58.9,173.0 L53.5,176.1 L58.9,179.2" fill="none" stroke="#111" stroke-width="2.1" stroke-linejoin="miter" stroke-miterlimit="10"/>
<path d="M145.3,173.3 L150.7,176.4 L145.3,179.5" fill="none" stroke="#111" stroke-width="2.1" stroke-linejoin="miter" stroke-miterlimit="10"/>
<line x1="154.8" y1="176.4" x2="249.3" y2="178.4" stroke="#111" stroke-width="1.8"/>
<path d="M160.7,173.3 L155.3,176.4 L160.7,179.5" fill="none" stroke="#111" stroke-width="2.1" stroke-linejoin="miter" stroke-miterlimit="10"/>
<path d="M243.4,175.3 L248.8,178.4 L243.4,181.5" fill="none" stroke="#111" stroke-width="2.1" stroke-linejoin="miter" stroke-miterlimit="10"/>
<line x1="253.0" y1="177.6" x2="367.0" y2="177.8" stroke="#111" stroke-width="1.8"/>
<path d="M258.9,174.5 L253.5,177.6 L258.9,180.7" fill="none" stroke="#111" stroke-width="2.1" stroke-linejoin="miter" stroke-miterlimit="10"/>
<path d="M361.1,174.7 L366.5,177.8 L361.1,180.9" fill="none" stroke="#111" stroke-width="2.1" stroke-linejoin="miter" stroke-miterlimit="10"/>
<text x="117.8" y="169.6" text-anchor="middle" class="lb" textLength="18.6" lengthAdjust="spacingAndGlyphs">VLDL</text>
<text x="206.6" y="171.8" text-anchor="middle" class="lb" textLength="13.0" lengthAdjust="spacingAndGlyphs">LDL</text>
<text x="315.4" y="169.5" text-anchor="middle" class="lb" textLength="14.3" lengthAdjust="spacingAndGlyphs">HDL</text>
<rect x="397.2" y="153.3" width="69.9" height="51.0" fill="#fff" stroke="#7f7f7f" stroke-width="1.1"/>
<line x1="400.6" y1="163.0" x2="417.1" y2="163.0" stroke="#4b8fd8" stroke-width="2.4"/>
<ellipse cx="409.1" cy="163.0" rx="2.9" ry="2.3" fill="#cfe2f6" stroke="#4b8fd8" stroke-width="1.1"/>
<text x="417.6" y="166.0" class="lg" textLength="45.2" lengthAdjust="spacingAndGlyphs">NU Controls</text>
<line x1="400.6" y1="180.3" x2="417.1" y2="180.3" stroke="#dc5552" stroke-width="2.4"/>
<ellipse cx="409.1" cy="180.3" rx="2.9" ry="2.3" fill="#f6caca" stroke="#dc5552" stroke-width="1.1"/>
<text x="417.6" y="183.3" class="lg" textLength="45.2" lengthAdjust="spacingAndGlyphs">HU Controls</text>
<line x1="400.6" y1="197.1" x2="417.1" y2="197.1" stroke="#9cc54f" stroke-width="2.4"/>
<ellipse cx="409.1" cy="197.1" rx="2.9" ry="2.3" fill="#e0eec4" stroke="#9cc54f" stroke-width="1.1"/>
<text x="417.6" y="200.1" class="lg" textLength="41.7" lengthAdjust="spacingAndGlyphs">Gout Cases</text>
<text x="65.95" y="11.0" class="tt" textLength="65.00" lengthAdjust="spacingAndGlyphs">Triglyceride</text>
<text x="134.65" y="11.0" class="tt" textLength="48.30" lengthAdjust="spacingAndGlyphs">Patterns</text>
<text x="185.95" y="11.0" class="tt" textLength="12.20" lengthAdjust="spacingAndGlyphs">of</text>
<text x="201.85" y="11.0" class="tt" textLength="53.30" lengthAdjust="spacingAndGlyphs">European</text>
<text x="258.05" y="11.0" class="tt" textLength="27.80" lengthAdjust="spacingAndGlyphs">Gout</text>
<text x="288.65" y="11.0" class="tt" textLength="32.60" lengthAdjust="spacingAndGlyphs">Cases</text>
<text x="324.65" y="11.0" class="tt" textLength="21.20" lengthAdjust="spacingAndGlyphs">and</text>
<text x="348.75" y="11.0" class="tt" textLength="47.60" lengthAdjust="spacingAndGlyphs">Controls</text>
<text x="115.55" y="321.7" class="ax" textLength="17.40" lengthAdjust="spacingAndGlyphs">Fast</text>
<text x="135.65" y="321.7" class="ax" textLength="28.90" lengthAdjust="spacingAndGlyphs">Protein</text>
<text x="167.35" y="321.7" class="ax" textLength="24.20" lengthAdjust="spacingAndGlyphs">Liquid</text>
<text x="194.05" y="321.7" class="ax" textLength="80.90" lengthAdjust="spacingAndGlyphs">Chromatography</text>
<text x="277.45" y="321.7" class="ax" textLength="35.40" lengthAdjust="spacingAndGlyphs">Fraction</text>
<text x="315.55" y="321.7" class="ax" textLength="35.80" lengthAdjust="spacingAndGlyphs">Number</text>
<text transform="translate(9.35,212.15) rotate(-89.9)" x="0" y="0" class="ay" textLength="56.10" lengthAdjust="spacingAndGlyphs">Triglycerides</text>
<text transform="translate(9.35,153.85) rotate(-89.9)" x="0" y="0" class="ay" textLength="40.90" lengthAdjust="spacingAndGlyphs">(mmol/L)</text>
<line x1="41.7" y1="384.5" x2="41.7" y2="678.5" stroke="#c4c4c4" stroke-width="1.1"/>
<line x1="41.2" y1="605.0" x2="430" y2="605.0" stroke="#c4c4c4" stroke-width="1.1"/>
<text x="34.0" y="389.3" text-anchor="end" class="tk">0.3</text>
<text x="34.0" y="425.8" text-anchor="end" class="tk">0.25</text>
<text x="34.0" y="463.1" text-anchor="end" class="tk">0.2</text>
<text x="34.0" y="499.8" text-anchor="end" class="tk">0.15</text>
<text x="34.0" y="537.2" text-anchor="end" class="tk">0.1</text>
<text x="34.0" y="573.8" text-anchor="end" class="tk">0.05</text>
<text x="34.0" y="610.0" text-anchor="end" class="tk">0</text>
<text x="34.0" y="646.6" text-anchor="end" class="tk">-0.05</text>
<text x="34.0" y="683.1" text-anchor="end" class="tk">-0.1</text>
<text x="42.0" y="621.2" text-anchor="middle" class="tk">10</text>
<text x="106.0" y="621.2" text-anchor="middle" class="tk">15</text>
<text x="170.0" y="621.2" text-anchor="middle" class="tk">20</text>
<text x="234.1" y="621.2" text-anchor="middle" class="tk">25</text>
<text x="298.1" y="621.2" text-anchor="middle" class="tk">30</text>
<text x="362.1" y="621.2" text-anchor="middle" class="tk">35</text>
<text x="426.2" y="621.2" text-anchor="middle" class="tk">40</text>
<line x1="67.52" y1="546.00" x2="67.52" y2="663.00" stroke="#5a5a5a" stroke-width="1.2"/>
<line x1="80.28" y1="579.60" x2="80.28" y2="607.00" stroke="#5a5a5a" stroke-width="1.2"/>
<line x1="93.04" y1="472.10" x2="93.04" y2="620.30" stroke="#5a5a5a" stroke-width="1.2"/>
<line x1="105.80" y1="392.80" x2="105.80" y2="586.80" stroke="#5a5a5a" stroke-width="1.2"/>
<line x1="118.56" y1="398.00" x2="118.56" y2="594.70" stroke="#5a5a5a" stroke-width="1.2"/>
<line x1="131.32" y1="502.30" x2="131.32" y2="598.50" stroke="#5a5a5a" stroke-width="1.2"/>
<line x1="144.08" y1="561.80" x2="144.08" y2="599.60" stroke="#5a5a5a" stroke-width="1.2"/>
<line x1="156.84" y1="577.20" x2="156.84" y2="599.60" stroke="#5a5a5a" stroke-width="1.2"/>
<line x1="169.60" y1="581.50" x2="169.60" y2="598.20" stroke="#5a5a5a" stroke-width="1.2"/>
<line x1="182.36" y1="576.90" x2="182.36" y2="597.20" stroke="#5a5a5a" stroke-width="1.2"/>
<line x1="195.12" y1="571.00" x2="195.12" y2="592.50" stroke="#5a5a5a" stroke-width="1.2"/>
<line x1="207.88" y1="574.20" x2="207.88" y2="594.80" stroke="#5a5a5a" stroke-width="1.2"/>
<line x1="220.64" y1="577.40" x2="220.64" y2="597.20" stroke="#5a5a5a" stroke-width="1.2"/>
<line x1="233.40" y1="584.90" x2="233.40" y2="599.20" stroke="#5a5a5a" stroke-width="1.2"/>
<line x1="246.16" y1="592.00" x2="246.16" y2="601.90" stroke="#5a5a5a" stroke-width="1.2"/>
<line x1="258.92" y1="592.30" x2="258.92" y2="603.20" stroke="#5a5a5a" stroke-width="1.2"/>
<line x1="271.68" y1="590.00" x2="271.68" y2="602.00" stroke="#5a5a5a" stroke-width="1.2"/>
<line x1="284.44" y1="589.00" x2="284.44" y2="601.00" stroke="#5a5a5a" stroke-width="1.2"/>
<line x1="297.20" y1="589.00" x2="297.20" y2="600.00" stroke="#5a5a5a" stroke-width="1.2"/>
<line x1="309.96" y1="589.00" x2="309.96" y2="600.00" stroke="#5a5a5a" stroke-width="1.2"/>
<line x1="322.72" y1="589.20" x2="322.72" y2="601.00" stroke="#5a5a5a" stroke-width="1.2"/>
<line x1="335.48" y1="590.40" x2="335.48" y2="603.00" stroke="#5a5a5a" stroke-width="1.2"/>
<line x1="348.24" y1="592.00" x2="348.24" y2="604.00" stroke="#5a5a5a" stroke-width="1.2"/>
<line x1="361.00" y1="594.60" x2="361.00" y2="604.70" stroke="#5a5a5a" stroke-width="1.2"/>
<line x1="373.76" y1="596.00" x2="373.76" y2="606.00" stroke="#5a5a5a" stroke-width="1.2"/>
<line x1="386.52" y1="596.00" x2="386.52" y2="606.00" stroke="#5a5a5a" stroke-width="1.2"/>
<line x1="399.28" y1="596.00" x2="399.28" y2="606.00" stroke="#5a5a5a" stroke-width="1.2"/>
<line x1="412.04" y1="596.00" x2="412.04" y2="606.00" stroke="#5a5a5a" stroke-width="1.2"/>
<line x1="424.80" y1="596.00" x2="424.80" y2="606.00" stroke="#5a5a5a" stroke-width="1.2"/>
<path d="M67.52,601.90 C71.77,600.45 76.03,601.00 80.28,593.20 C84.53,585.40 88.79,559.90 93.04,555.10 C97.29,550.30 101.55,547.15 105.80,550.30 C110.05,553.45 114.31,567.72 118.56,574.00 C122.81,580.28 127.07,584.63 131.32,588.00 C135.57,591.37 139.83,594.00 144.08,594.20 C148.33,594.40 152.59,594.72 156.84,594.40 C161.09,594.08 165.35,593.37 169.60,592.30 C173.85,591.23 178.11,589.38 182.36,588.00 C186.61,586.62 190.87,584.50 195.12,584.00 C199.37,583.50 203.63,582.83 207.88,583.50 C212.13,584.17 216.39,586.25 220.64,588.00 C224.89,589.75 229.15,592.50 233.40,594.00 C237.65,595.50 241.91,596.27 246.16,597.00 C250.41,597.73 254.67,598.30 258.92,598.40 C263.17,598.50 267.43,597.87 271.68,597.60 C275.93,597.33 280.19,597.07 284.44,596.80 C288.69,596.53 292.95,596.13 297.20,596.00 C301.45,595.87 305.71,595.67 309.96,596.00 C314.21,596.33 318.47,597.33 322.72,598.00 C326.97,598.67 331.23,599.50 335.48,600.00 C339.73,600.50 343.99,600.67 348.24,601.00 C352.49,601.33 356.75,601.75 361.00,602.00 C365.25,602.25 369.51,602.42 373.76,602.50 C378.01,602.58 382.27,602.50 386.52,602.50 C390.77,602.50 395.03,602.50 399.28,602.50 C403.53,602.50 407.79,602.50 412.04,602.50 C416.29,602.50 420.55,602.50 424.80,602.50" fill="none" stroke="#4b8fd8" stroke-width="2.6" stroke-linejoin="round"/>
<path d="M67.52,598.10 L71.32,601.90 L67.52,605.70 L63.72,601.90 Z" fill="#5a9de0" stroke="#4b8fd8" stroke-width="0.5"/>
<path d="M80.28,589.40 L84.08,593.20 L80.28,597.00 L76.48,593.20 Z" fill="#5a9de0" stroke="#4b8fd8" stroke-width="0.5"/>
<path d="M93.04,551.30 L96.84,555.10 L93.04,558.90 L89.24,555.10 Z" fill="#5a9de0" stroke="#4b8fd8" stroke-width="0.5"/>
<path d="M105.80,546.50 L109.60,550.30 L105.80,554.10 L102.00,550.30 Z" fill="#5a9de0" stroke="#4b8fd8" stroke-width="0.5"/>
<path d="M118.56,570.20 L122.36,574.00 L118.56,577.80 L114.76,574.00 Z" fill="#5a9de0" stroke="#4b8fd8" stroke-width="0.5"/>
<path d="M131.32,584.20 L135.12,588.00 L131.32,591.80 L127.52,588.00 Z" fill="#5a9de0" stroke="#4b8fd8" stroke-width="0.5"/>
<path d="M144.08,590.40 L147.88,594.20 L144.08,598.00 L140.28,594.20 Z" fill="#5a9de0" stroke="#4b8fd8" stroke-width="0.5"/>
<path d="M156.84,590.60 L160.64,594.40 L156.84,598.20 L153.04,594.40 Z" fill="#5a9de0" stroke="#4b8fd8" stroke-width="0.5"/>
<path d="M169.60,588.50 L173.40,592.30 L169.60,596.10 L165.80,592.30 Z" fill="#5a9de0" stroke="#4b8fd8" stroke-width="0.5"/>
<path d="M182.36,584.20 L186.16,588.00 L182.36,591.80 L178.56,588.00 Z" fill="#5a9de0" stroke="#4b8fd8" stroke-width="0.5"/>
<path d="M195.12,580.20 L198.92,584.00 L195.12,587.80 L191.32,584.00 Z" fill="#5a9de0" stroke="#4b8fd8" stroke-width="0.5"/>
<path d="M207.88,579.70 L211.68,583.50 L207.88,587.30 L204.08,583.50 Z" fill="#5a9de0" stroke="#4b8fd8" stroke-width="0.5"/>
<path d="M220.64,584.20 L224.44,588.00 L220.64,591.80 L216.84,588.00 Z" fill="#5a9de0" stroke="#4b8fd8" stroke-width="0.5"/>
<path d="M233.40,590.20 L237.20,594.00 L233.40,597.80 L229.60,594.00 Z" fill="#5a9de0" stroke="#4b8fd8" stroke-width="0.5"/>
<path d="M246.16,593.20 L249.96,597.00 L246.16,600.80 L242.36,597.00 Z" fill="#5a9de0" stroke="#4b8fd8" stroke-width="0.5"/>
<path d="M258.92,594.60 L262.72,598.40 L258.92,602.20 L255.12,598.40 Z" fill="#5a9de0" stroke="#4b8fd8" stroke-width="0.5"/>
<path d="M271.68,593.80 L275.48,597.60 L271.68,601.40 L267.88,597.60 Z" fill="#5a9de0" stroke="#4b8fd8" stroke-width="0.5"/>
<path d="M284.44,593.00 L288.24,596.80 L284.44,600.60 L280.64,596.80 Z" fill="#5a9de0" stroke="#4b8fd8" stroke-width="0.5"/>
<path d="M297.20,592.20 L301.00,596.00 L297.20,599.80 L293.40,596.00 Z" fill="#5a9de0" stroke="#4b8fd8" stroke-width="0.5"/>
<path d="M309.96,592.20 L313.76,596.00 L309.96,599.80 L306.16,596.00 Z" fill="#5a9de0" stroke="#4b8fd8" stroke-width="0.5"/>
<path d="M322.72,594.20 L326.52,598.00 L322.72,601.80 L318.92,598.00 Z" fill="#5a9de0" stroke="#4b8fd8" stroke-width="0.5"/>
<path d="M335.48,596.20 L339.28,600.00 L335.48,603.80 L331.68,600.00 Z" fill="#5a9de0" stroke="#4b8fd8" stroke-width="0.5"/>
<path d="M348.24,597.20 L352.04,601.00 L348.24,604.80 L344.44,601.00 Z" fill="#5a9de0" stroke="#4b8fd8" stroke-width="0.5"/>
<path d="M361.00,598.20 L364.80,602.00 L361.00,605.80 L357.20,602.00 Z" fill="#5a9de0" stroke="#4b8fd8" stroke-width="0.5"/>
<path d="M373.76,598.70 L377.56,602.50 L373.76,606.30 L369.96,602.50 Z" fill="#5a9de0" stroke="#4b8fd8" stroke-width="0.5"/>
<path d="M386.52,598.70 L390.32,602.50 L386.52,606.30 L382.72,602.50 Z" fill="#5a9de0" stroke="#4b8fd8" stroke-width="0.5"/>
<path d="M399.28,598.70 L403.08,602.50 L399.28,606.30 L395.48,602.50 Z" fill="#5a9de0" stroke="#4b8fd8" stroke-width="0.5"/>
<path d="M412.04,598.70 L415.84,602.50 L412.04,606.30 L408.24,602.50 Z" fill="#5a9de0" stroke="#4b8fd8" stroke-width="0.5"/>
<path d="M424.80,598.70 L428.60,602.50 L424.80,606.30 L421.00,602.50 Z" fill="#5a9de0" stroke="#4b8fd8" stroke-width="0.5"/>
<path d="M67.52,592.50 C71.77,588.30 76.03,577.28 80.28,567.30 C84.53,557.32 88.79,536.62 93.04,532.60 C97.29,528.58 101.55,536.42 105.80,543.20 C110.05,549.98 114.31,566.32 118.56,573.30 C122.81,580.28 127.07,582.48 131.32,585.10 C135.57,587.72 139.83,588.53 144.08,589.00 C148.33,589.47 152.59,588.93 156.84,587.90 C161.09,586.87 165.35,584.10 169.60,582.80 C173.85,581.50 178.11,580.82 182.36,580.10 C186.61,579.38 190.87,578.23 195.12,578.50 C199.37,578.77 203.63,579.68 207.88,581.70 C212.13,583.72 216.39,588.55 220.64,590.60 C224.89,592.65 229.15,593.23 233.40,594.00 C237.65,594.77 241.91,594.87 246.16,595.20 C250.41,595.53 254.67,596.22 258.92,596.00 C263.17,595.78 267.43,594.43 271.68,593.90 C275.93,593.37 280.19,593.08 284.44,592.80 C288.69,592.52 292.95,592.42 297.20,592.20 C301.45,591.98 305.71,590.70 309.96,591.50 C314.21,592.30 318.47,595.75 322.72,597.00 C326.97,598.25 331.23,598.33 335.48,599.00 C339.73,599.67 343.99,601.00 348.24,601.00 C352.49,601.00 356.75,599.23 361.00,599.00 C365.25,598.77 369.51,599.40 373.76,599.60 C378.01,599.80 382.27,600.10 386.52,600.20 C390.77,600.30 395.03,600.20 399.28,600.20 C403.53,600.20 407.79,600.20 412.04,600.20 C416.29,600.20 420.55,600.20 424.80,600.20" fill="none" stroke="#dc5552" stroke-width="2.6" stroke-linejoin="round"/>
<rect x="63.62" y="588.60" width="7.80" height="7.80" fill="#ea706d" stroke="#dc5552" stroke-width="0.5"/>
<rect x="76.38" y="563.40" width="7.80" height="7.80" fill="#ea706d" stroke="#dc5552" stroke-width="0.5"/>
<rect x="89.14" y="528.70" width="7.80" height="7.80" fill="#ea706d" stroke="#dc5552" stroke-width="0.5"/>
<rect x="101.90" y="539.30" width="7.80" height="7.80" fill="#ea706d" stroke="#dc5552" stroke-width="0.5"/>
<rect x="114.66" y="569.40" width="7.80" height="7.80" fill="#ea706d" stroke="#dc5552" stroke-width="0.5"/>
<rect x="127.42" y="581.20" width="7.80" height="7.80" fill="#ea706d" stroke="#dc5552" stroke-width="0.5"/>
<rect x="140.18" y="585.10" width="7.80" height="7.80" fill="#ea706d" stroke="#dc5552" stroke-width="0.5"/>
<rect x="152.94" y="584.00" width="7.80" height="7.80" fill="#ea706d" stroke="#dc5552" stroke-width="0.5"/>
<rect x="165.70" y="578.90" width="7.80" height="7.80" fill="#ea706d" stroke="#dc5552" stroke-width="0.5"/>
<rect x="178.46" y="576.20" width="7.80" height="7.80" fill="#ea706d" stroke="#dc5552" stroke-width="0.5"/>
<rect x="191.22" y="574.60" width="7.80" height="7.80" fill="#ea706d" stroke="#dc5552" stroke-width="0.5"/>
<rect x="203.98" y="577.80" width="7.80" height="7.80" fill="#ea706d" stroke="#dc5552" stroke-width="0.5"/>
<rect x="216.74" y="586.70" width="7.80" height="7.80" fill="#ea706d" stroke="#dc5552" stroke-width="0.5"/>
<rect x="229.50" y="590.10" width="7.80" height="7.80" fill="#ea706d" stroke="#dc5552" stroke-width="0.5"/>
<rect x="242.26" y="591.30" width="7.80" height="7.80" fill="#ea706d" stroke="#dc5552" stroke-width="0.5"/>
<rect x="255.02" y="592.10" width="7.80" height="7.80" fill="#ea706d" stroke="#dc5552" stroke-width="0.5"/>
<rect x="267.78" y="590.00" width="7.80" height="7.80" fill="#ea706d" stroke="#dc5552" stroke-width="0.5"/>
<rect x="280.54" y="588.90" width="7.80" height="7.80" fill="#ea706d" stroke="#dc5552" stroke-width="0.5"/>
<rect x="293.30" y="588.30" width="7.80" height="7.80" fill="#ea706d" stroke="#dc5552" stroke-width="0.5"/>
<rect x="306.06" y="587.60" width="7.80" height="7.80" fill="#ea706d" stroke="#dc5552" stroke-width="0.5"/>
<rect x="318.82" y="593.10" width="7.80" height="7.80" fill="#ea706d" stroke="#dc5552" stroke-width="0.5"/>
<rect x="331.58" y="595.10" width="7.80" height="7.80" fill="#ea706d" stroke="#dc5552" stroke-width="0.5"/>
<rect x="344.34" y="597.10" width="7.80" height="7.80" fill="#ea706d" stroke="#dc5552" stroke-width="0.5"/>
<rect x="357.10" y="595.10" width="7.80" height="7.80" fill="#ea706d" stroke="#dc5552" stroke-width="0.5"/>
<rect x="369.86" y="595.70" width="7.80" height="7.80" fill="#ea706d" stroke="#dc5552" stroke-width="0.5"/>
<rect x="382.62" y="596.30" width="7.80" height="7.80" fill="#ea706d" stroke="#dc5552" stroke-width="0.5"/>
<rect x="395.38" y="596.30" width="7.80" height="7.80" fill="#ea706d" stroke="#dc5552" stroke-width="0.5"/>
<rect x="408.14" y="596.30" width="7.80" height="7.80" fill="#ea706d" stroke="#dc5552" stroke-width="0.5"/>
<rect x="420.90" y="596.30" width="7.80" height="7.80" fill="#ea706d" stroke="#dc5552" stroke-width="0.5"/>
<line x1="64.82" y1="546.00" x2="70.22" y2="546.00" stroke="#333" stroke-width="1.3"/>
<path d="M65.32,546.00 L69.72,546.00 L67.52,547.80 Z" fill="#3a3a3a"/>
<line x1="64.82" y1="597.60" x2="70.22" y2="597.60" stroke="#333" stroke-width="1.3"/>
<path d="M65.32,597.60 L69.72,597.60 L67.52,599.40 Z" fill="#3a3a3a"/>
<path d="M65.32,597.60 L69.72,597.60 L67.52,595.80 Z" fill="#3a3a3a"/>
<line x1="64.82" y1="663.00" x2="70.22" y2="663.00" stroke="#333" stroke-width="1.3"/>
<path d="M65.32,663.00 L69.72,663.00 L67.52,661.20 Z" fill="#3a3a3a"/>
<line x1="77.58" y1="579.60" x2="82.98" y2="579.60" stroke="#333" stroke-width="1.3"/>
<path d="M78.08,579.60 L82.48,579.60 L80.28,581.40 Z" fill="#3a3a3a"/>
<line x1="77.58" y1="607.00" x2="82.98" y2="607.00" stroke="#333" stroke-width="1.3"/>
<path d="M78.08,607.00 L82.48,607.00 L80.28,605.20 Z" fill="#3a3a3a"/>
<line x1="90.34" y1="472.10" x2="95.74" y2="472.10" stroke="#333" stroke-width="1.3"/>
<path d="M90.84,472.10 L95.24,472.10 L93.04,473.90 Z" fill="#3a3a3a"/>
<line x1="90.34" y1="518.60" x2="95.74" y2="518.60" stroke="#333" stroke-width="1.3"/>
<path d="M90.84,518.60 L95.24,518.60 L93.04,520.40 Z" fill="#3a3a3a"/>
<path d="M90.84,518.60 L95.24,518.60 L93.04,516.80 Z" fill="#3a3a3a"/>
<line x1="90.34" y1="591.10" x2="95.74" y2="591.10" stroke="#333" stroke-width="1.3"/>
<path d="M90.84,591.10 L95.24,591.10 L93.04,592.90 Z" fill="#3a3a3a"/>
<path d="M90.84,591.10 L95.24,591.10 L93.04,589.30 Z" fill="#3a3a3a"/>
<line x1="90.34" y1="620.30" x2="95.74" y2="620.30" stroke="#333" stroke-width="1.3"/>
<path d="M90.84,620.30 L95.24,620.30 L93.04,618.50 Z" fill="#3a3a3a"/>
<line x1="103.10" y1="392.80" x2="108.50" y2="392.80" stroke="#333" stroke-width="1.3"/>
<path d="M103.60,392.80 L108.00,392.80 L105.80,394.60 Z" fill="#3a3a3a"/>
<line x1="103.10" y1="513.20" x2="108.50" y2="513.20" stroke="#333" stroke-width="1.3"/>
<path d="M103.60,513.20 L108.00,513.20 L105.80,515.00 Z" fill="#3a3a3a"/>
<path d="M103.60,513.20 L108.00,513.20 L105.80,511.40 Z" fill="#3a3a3a"/>
<line x1="103.10" y1="573.10" x2="108.50" y2="573.10" stroke="#333" stroke-width="1.3"/>
<path d="M103.60,573.10 L108.00,573.10 L105.80,574.90 Z" fill="#3a3a3a"/>
<path d="M103.60,573.10 L108.00,573.10 L105.80,571.30 Z" fill="#3a3a3a"/>
<line x1="103.10" y1="586.80" x2="108.50" y2="586.80" stroke="#333" stroke-width="1.3"/>
<path d="M103.60,586.80 L108.00,586.80 L105.80,585.00 Z" fill="#3a3a3a"/>
<line x1="115.86" y1="398.00" x2="121.26" y2="398.00" stroke="#333" stroke-width="1.3"/>
<path d="M116.36,398.00 L120.76,398.00 L118.56,399.80 Z" fill="#3a3a3a"/>
<line x1="115.86" y1="551.50" x2="121.26" y2="551.50" stroke="#333" stroke-width="1.3"/>
<path d="M116.36,551.50 L120.76,551.50 L118.56,553.30 Z" fill="#3a3a3a"/>
<path d="M116.36,551.50 L120.76,551.50 L118.56,549.70 Z" fill="#3a3a3a"/>
<line x1="115.86" y1="583.20" x2="121.26" y2="583.20" stroke="#333" stroke-width="1.3"/>
<path d="M116.36,583.20 L120.76,583.20 L118.56,585.00 Z" fill="#3a3a3a"/>
<path d="M116.36,583.20 L120.76,583.20 L118.56,581.40 Z" fill="#3a3a3a"/>
<line x1="115.86" y1="594.70" x2="121.26" y2="594.70" stroke="#333" stroke-width="1.3"/>
<path d="M116.36,594.70 L120.76,594.70 L118.56,592.90 Z" fill="#3a3a3a"/>
<line x1="128.62" y1="502.30" x2="134.02" y2="502.30" stroke="#333" stroke-width="1.3"/>
<path d="M129.12,502.30 L133.52,502.30 L131.32,504.10 Z" fill="#3a3a3a"/>
<line x1="128.62" y1="556.20" x2="134.02" y2="556.20" stroke="#333" stroke-width="1.3"/>
<path d="M129.12,556.20 L133.52,556.20 L131.32,558.00 Z" fill="#3a3a3a"/>
<path d="M129.12,556.20 L133.52,556.20 L131.32,554.40 Z" fill="#3a3a3a"/>
<line x1="128.62" y1="573.30" x2="134.02" y2="573.30" stroke="#333" stroke-width="1.3"/>
<path d="M129.12,573.30 L133.52,573.30 L131.32,575.10 Z" fill="#3a3a3a"/>
<path d="M129.12,573.30 L133.52,573.30 L131.32,571.50 Z" fill="#3a3a3a"/>
<line x1="128.62" y1="589.30" x2="134.02" y2="589.30" stroke="#333" stroke-width="1.3"/>
<path d="M129.12,589.30 L133.52,589.30 L131.32,591.10 Z" fill="#3a3a3a"/>
<path d="M129.12,589.30 L133.52,589.30 L131.32,587.50 Z" fill="#3a3a3a"/>
<line x1="128.62" y1="598.50" x2="134.02" y2="598.50" stroke="#333" stroke-width="1.3"/>
<path d="M129.12,598.50 L133.52,598.50 L131.32,596.70 Z" fill="#3a3a3a"/>
<line x1="141.38" y1="561.80" x2="146.78" y2="561.80" stroke="#333" stroke-width="1.3"/>
<path d="M141.88,561.80 L146.28,561.80 L144.08,563.60 Z" fill="#3a3a3a"/>
<line x1="141.38" y1="599.60" x2="146.78" y2="599.60" stroke="#333" stroke-width="1.3"/>
<path d="M141.88,599.60 L146.28,599.60 L144.08,597.80 Z" fill="#3a3a3a"/>
<line x1="154.14" y1="577.20" x2="159.54" y2="577.20" stroke="#333" stroke-width="1.3"/>
<path d="M154.64,577.20 L159.04,577.20 L156.84,579.00 Z" fill="#3a3a3a"/>
<line x1="154.14" y1="599.60" x2="159.54" y2="599.60" stroke="#333" stroke-width="1.3"/>
<path d="M154.64,599.60 L159.04,599.60 L156.84,597.80 Z" fill="#3a3a3a"/>
<line x1="166.90" y1="581.50" x2="172.30" y2="581.50" stroke="#333" stroke-width="1.3"/>
<path d="M167.40,581.50 L171.80,581.50 L169.60,583.30 Z" fill="#3a3a3a"/>
<line x1="166.90" y1="598.20" x2="172.30" y2="598.20" stroke="#333" stroke-width="1.3"/>
<path d="M167.40,598.20 L171.80,598.20 L169.60,596.40 Z" fill="#3a3a3a"/>
<line x1="179.66" y1="576.90" x2="185.06" y2="576.90" stroke="#333" stroke-width="1.3"/>
<path d="M180.16,576.90 L184.56,576.90 L182.36,578.70 Z" fill="#3a3a3a"/>
<line x1="179.66" y1="593.30" x2="185.06" y2="593.30" stroke="#333" stroke-width="1.3"/>
<path d="M180.16,593.30 L184.56,593.30 L182.36,595.10 Z" fill="#3a3a3a"/>
<path d="M180.16,593.30 L184.56,593.30 L182.36,591.50 Z" fill="#3a3a3a"/>
<line x1="179.66" y1="597.20" x2="185.06" y2="597.20" stroke="#333" stroke-width="1.3"/>
<path d="M180.16,597.20 L184.56,597.20 L182.36,595.40 Z" fill="#3a3a3a"/>
<line x1="192.42" y1="571.00" x2="197.82" y2="571.00" stroke="#333" stroke-width="1.3"/>
<path d="M192.92,571.00 L197.32,571.00 L195.12,572.80 Z" fill="#3a3a3a"/>
<line x1="192.42" y1="589.60" x2="197.82" y2="589.60" stroke="#333" stroke-width="1.3"/>
<path d="M192.92,589.60 L197.32,589.60 L195.12,591.40 Z" fill="#3a3a3a"/>
<path d="M192.92,589.60 L197.32,589.60 L195.12,587.80 Z" fill="#3a3a3a"/>
<line x1="192.42" y1="592.50" x2="197.82" y2="592.50" stroke="#333" stroke-width="1.3"/>
<path d="M192.92,592.50 L197.32,592.50 L195.12,590.70 Z" fill="#3a3a3a"/>
<line x1="205.18" y1="574.20" x2="210.58" y2="574.20" stroke="#333" stroke-width="1.3"/>
<path d="M205.68,574.20 L210.08,574.20 L207.88,576.00 Z" fill="#3a3a3a"/>
<line x1="205.18" y1="590.60" x2="210.58" y2="590.60" stroke="#333" stroke-width="1.3"/>
<path d="M205.68,590.60 L210.08,590.60 L207.88,592.40 Z" fill="#3a3a3a"/>
<path d="M205.68,590.60 L210.08,590.60 L207.88,588.80 Z" fill="#3a3a3a"/>
<line x1="205.18" y1="594.80" x2="210.58" y2="594.80" stroke="#333" stroke-width="1.3"/>
<path d="M205.68,594.80 L210.08,594.80 L207.88,593.00 Z" fill="#3a3a3a"/>
<line x1="217.94" y1="577.40" x2="223.34" y2="577.40" stroke="#333" stroke-width="1.3"/>
<path d="M218.44,577.40 L222.84,577.40 L220.64,579.20 Z" fill="#3a3a3a"/>
<line x1="217.94" y1="594.80" x2="223.34" y2="594.80" stroke="#333" stroke-width="1.3"/>
<path d="M218.44,594.80 L222.84,594.80 L220.64,596.60 Z" fill="#3a3a3a"/>
<path d="M218.44,594.80 L222.84,594.80 L220.64,593.00 Z" fill="#3a3a3a"/>
<line x1="217.94" y1="597.20" x2="223.34" y2="597.20" stroke="#333" stroke-width="1.3"/>
<path d="M218.44,597.20 L222.84,597.20 L220.64,595.40 Z" fill="#3a3a3a"/>
<line x1="230.70" y1="584.90" x2="236.10" y2="584.90" stroke="#333" stroke-width="1.3"/>
<path d="M231.20,584.90 L235.60,584.90 L233.40,586.70 Z" fill="#3a3a3a"/>
<line x1="230.70" y1="599.20" x2="236.10" y2="599.20" stroke="#333" stroke-width="1.3"/>
<path d="M231.20,599.20 L235.60,599.20 L233.40,597.40 Z" fill="#3a3a3a"/>
<line x1="243.46" y1="592.00" x2="248.86" y2="592.00" stroke="#333" stroke-width="1.3"/>
<path d="M243.96,592.00 L248.36,592.00 L246.16,593.80 Z" fill="#3a3a3a"/>
<line x1="243.46" y1="601.90" x2="248.86" y2="601.90" stroke="#333" stroke-width="1.3"/>
<path d="M243.96,601.90 L248.36,601.90 L246.16,600.10 Z" fill="#3a3a3a"/>
<line x1="256.22" y1="592.30" x2="261.62" y2="592.30" stroke="#333" stroke-width="1.3"/>
<path d="M256.72,592.30 L261.12,592.30 L258.92,594.10 Z" fill="#3a3a3a"/>
<line x1="256.22" y1="603.20" x2="261.62" y2="603.20" stroke="#333" stroke-width="1.3"/>
<path d="M256.72,603.20 L261.12,603.20 L258.92,601.40 Z" fill="#3a3a3a"/>
<line x1="268.98" y1="590.00" x2="274.38" y2="590.00" stroke="#333" stroke-width="1.3"/>
<path d="M269.48,590.00 L273.88,590.00 L271.68,591.80 Z" fill="#3a3a3a"/>
<line x1="268.98" y1="602.00" x2="274.38" y2="602.00" stroke="#333" stroke-width="1.3"/>
<path d="M269.48,602.00 L273.88,602.00 L271.68,600.20 Z" fill="#3a3a3a"/>
<line x1="281.74" y1="589.00" x2="287.14" y2="589.00" stroke="#333" stroke-width="1.3"/>
<path d="M282.24,589.00 L286.64,589.00 L284.44,590.80 Z" fill="#3a3a3a"/>
<line x1="281.74" y1="601.00" x2="287.14" y2="601.00" stroke="#333" stroke-width="1.3"/>
<path d="M282.24,601.00 L286.64,601.00 L284.44,599.20 Z" fill="#3a3a3a"/>
<line x1="294.50" y1="589.00" x2="299.90" y2="589.00" stroke="#333" stroke-width="1.3"/>
<path d="M295.00,589.00 L299.40,589.00 L297.20,590.80 Z" fill="#3a3a3a"/>
<line x1="294.50" y1="600.00" x2="299.90" y2="600.00" stroke="#333" stroke-width="1.3"/>
<path d="M295.00,600.00 L299.40,600.00 L297.20,598.20 Z" fill="#3a3a3a"/>
<line x1="307.26" y1="589.00" x2="312.66" y2="589.00" stroke="#333" stroke-width="1.3"/>
<path d="M307.76,589.00 L312.16,589.00 L309.96,590.80 Z" fill="#3a3a3a"/>
<line x1="307.26" y1="600.00" x2="312.66" y2="600.00" stroke="#333" stroke-width="1.3"/>
<path d="M307.76,600.00 L312.16,600.00 L309.96,598.20 Z" fill="#3a3a3a"/>
<line x1="320.02" y1="589.20" x2="325.42" y2="589.20" stroke="#333" stroke-width="1.3"/>
<path d="M320.52,589.20 L324.92,589.20 L322.72,591.00 Z" fill="#3a3a3a"/>
<line x1="320.02" y1="601.00" x2="325.42" y2="601.00" stroke="#333" stroke-width="1.3"/>
<path d="M320.52,601.00 L324.92,601.00 L322.72,599.20 Z" fill="#3a3a3a"/>
<line x1="332.78" y1="590.40" x2="338.18" y2="590.40" stroke="#333" stroke-width="1.3"/>
<path d="M333.28,590.40 L337.68,590.40 L335.48,592.20 Z" fill="#3a3a3a"/>
<line x1="332.78" y1="603.00" x2="338.18" y2="603.00" stroke="#333" stroke-width="1.3"/>
<path d="M333.28,603.00 L337.68,603.00 L335.48,601.20 Z" fill="#3a3a3a"/>
<line x1="345.54" y1="592.00" x2="350.94" y2="592.00" stroke="#333" stroke-width="1.3"/>
<path d="M346.04,592.00 L350.44,592.00 L348.24,593.80 Z" fill="#3a3a3a"/>
<line x1="345.54" y1="604.00" x2="350.94" y2="604.00" stroke="#333" stroke-width="1.3"/>
<path d="M346.04,604.00 L350.44,604.00 L348.24,602.20 Z" fill="#3a3a3a"/>
<line x1="358.30" y1="594.60" x2="363.70" y2="594.60" stroke="#333" stroke-width="1.3"/>
<path d="M358.80,594.60 L363.20,594.60 L361.00,596.40 Z" fill="#3a3a3a"/>
<line x1="358.30" y1="604.70" x2="363.70" y2="604.70" stroke="#333" stroke-width="1.3"/>
<path d="M358.80,604.70 L363.20,604.70 L361.00,602.90 Z" fill="#3a3a3a"/>
<line x1="371.06" y1="596.00" x2="376.46" y2="596.00" stroke="#333" stroke-width="1.3"/>
<path d="M371.56,596.00 L375.96,596.00 L373.76,597.80 Z" fill="#3a3a3a"/>
<line x1="371.06" y1="606.00" x2="376.46" y2="606.00" stroke="#333" stroke-width="1.3"/>
<path d="M371.56,606.00 L375.96,606.00 L373.76,604.20 Z" fill="#3a3a3a"/>
<line x1="383.82" y1="596.00" x2="389.22" y2="596.00" stroke="#333" stroke-width="1.3"/>
<path d="M384.32,596.00 L388.72,596.00 L386.52,597.80 Z" fill="#3a3a3a"/>
<line x1="383.82" y1="606.00" x2="389.22" y2="606.00" stroke="#333" stroke-width="1.3"/>
<path d="M384.32,606.00 L388.72,606.00 L386.52,604.20 Z" fill="#3a3a3a"/>
<line x1="396.58" y1="596.00" x2="401.98" y2="596.00" stroke="#333" stroke-width="1.3"/>
<path d="M397.08,596.00 L401.48,596.00 L399.28,597.80 Z" fill="#3a3a3a"/>
<line x1="396.58" y1="606.00" x2="401.98" y2="606.00" stroke="#333" stroke-width="1.3"/>
<path d="M397.08,606.00 L401.48,606.00 L399.28,604.20 Z" fill="#3a3a3a"/>
<line x1="409.34" y1="596.00" x2="414.74" y2="596.00" stroke="#333" stroke-width="1.3"/>
<path d="M409.84,596.00 L414.24,596.00 L412.04,597.80 Z" fill="#3a3a3a"/>
<line x1="409.34" y1="606.00" x2="414.74" y2="606.00" stroke="#333" stroke-width="1.3"/>
<path d="M409.84,606.00 L414.24,606.00 L412.04,604.20 Z" fill="#3a3a3a"/>
<line x1="422.10" y1="596.00" x2="427.50" y2="596.00" stroke="#333" stroke-width="1.3"/>
<path d="M422.60,596.00 L427.00,596.00 L424.80,597.80 Z" fill="#3a3a3a"/>
<line x1="422.10" y1="606.00" x2="427.50" y2="606.00" stroke="#333" stroke-width="1.3"/>
<path d="M422.60,606.00 L427.00,606.00 L424.80,604.20 Z" fill="#3a3a3a"/>
<path d="M67.52,605.50 C71.77,605.37 76.03,605.50 80.28,604.70 C84.53,603.90 88.79,569.12 93.04,549.00 C97.29,528.88 101.55,493.42 105.80,484.00 C110.05,474.58 114.31,484.00 118.56,492.50 C122.81,501.00 127.07,536.22 131.32,550.80 C135.57,565.38 139.83,574.12 144.08,580.00 C148.33,585.88 152.59,584.68 156.84,586.10 C161.09,587.52 165.35,588.28 169.60,588.50 C173.85,588.72 178.11,588.12 182.36,587.40 C186.61,586.68 190.87,584.90 195.12,584.20 C199.37,583.50 203.63,582.75 207.88,583.20 C212.13,583.65 216.39,585.40 220.64,586.90 C224.89,588.40 229.15,590.55 233.40,592.20 C237.65,593.85 241.91,595.45 246.16,596.80 C250.41,598.15 254.67,599.57 258.92,600.30 C263.17,601.03 267.43,601.12 271.68,601.20 C275.93,601.28 280.19,601.20 284.44,600.80 C288.69,600.40 292.95,599.68 297.20,598.80 C301.45,597.92 305.71,595.70 309.96,595.50 C314.21,595.30 318.47,595.02 322.72,595.30 C326.97,595.58 331.23,596.63 335.48,597.20 C339.73,597.77 343.99,598.13 348.24,598.70 C352.49,599.27 356.75,599.88 361.00,600.60 C365.25,601.32 369.51,602.10 373.76,603.00 C378.01,603.90 382.27,605.50 386.52,606.00 C390.77,606.50 395.03,606.00 399.28,606.00 C403.53,606.00 407.79,606.03 412.04,606.00 C416.29,605.97 420.55,605.83 424.80,605.80" fill="none" stroke="#9cc54f" stroke-width="2.6" stroke-linejoin="round"/>
<path d="M67.52,602.10 L71.42,608.90 L63.62,608.90 Z" fill="#a9cf5e" stroke="#9cc54f" stroke-width="0.5"/>
<path d="M80.28,601.30 L84.18,608.10 L76.38,608.10 Z" fill="#a9cf5e" stroke="#9cc54f" stroke-width="0.5"/>
<path d="M93.04,545.60 L96.94,552.40 L89.14,552.40 Z" fill="#a9cf5e" stroke="#9cc54f" stroke-width="0.5"/>
<path d="M105.80,480.60 L109.70,487.40 L101.90,487.40 Z" fill="#a9cf5e" stroke="#9cc54f" stroke-width="0.5"/>
<path d="M118.56,489.10 L122.46,495.90 L114.66,495.90 Z" fill="#a9cf5e" stroke="#9cc54f" stroke-width="0.5"/>
<path d="M131.32,547.40 L135.22,554.20 L127.42,554.20 Z" fill="#a9cf5e" stroke="#9cc54f" stroke-width="0.5"/>
<path d="M144.08,576.60 L147.98,583.40 L140.18,583.40 Z" fill="#a9cf5e" stroke="#9cc54f" stroke-width="0.5"/>
<path d="M156.84,582.70 L160.74,589.50 L152.94,589.50 Z" fill="#a9cf5e" stroke="#9cc54f" stroke-width="0.5"/>
<path d="M169.60,585.10 L173.50,591.90 L165.70,591.90 Z" fill="#a9cf5e" stroke="#9cc54f" stroke-width="0.5"/>
<path d="M182.36,584.00 L186.26,590.80 L178.46,590.80 Z" fill="#a9cf5e" stroke="#9cc54f" stroke-width="0.5"/>
<path d="M195.12,580.80 L199.02,587.60 L191.22,587.60 Z" fill="#a9cf5e" stroke="#9cc54f" stroke-width="0.5"/>
<path d="M207.88,579.80 L211.78,586.60 L203.98,586.60 Z" fill="#a9cf5e" stroke="#9cc54f" stroke-width="0.5"/>
<path d="M220.64,583.50 L224.54,590.30 L216.74,590.30 Z" fill="#a9cf5e" stroke="#9cc54f" stroke-width="0.5"/>
<path d="M233.40,588.80 L237.30,595.60 L229.50,595.60 Z" fill="#a9cf5e" stroke="#9cc54f" stroke-width="0.5"/>
<path d="M246.16,593.40 L250.06,600.20 L242.26,600.20 Z" fill="#a9cf5e" stroke="#9cc54f" stroke-width="0.5"/>
<path d="M258.92,596.90 L262.82,603.70 L255.02,603.70 Z" fill="#a9cf5e" stroke="#9cc54f" stroke-width="0.5"/>
<path d="M271.68,597.80 L275.58,604.60 L267.78,604.60 Z" fill="#a9cf5e" stroke="#9cc54f" stroke-width="0.5"/>
<path d="M284.44,597.40 L288.34,604.20 L280.54,604.20 Z" fill="#a9cf5e" stroke="#9cc54f" stroke-width="0.5"/>
<path d="M297.20,595.40 L301.10,602.20 L293.30,602.20 Z" fill="#a9cf5e" stroke="#9cc54f" stroke-width="0.5"/>
<path d="M309.96,592.10 L313.86,598.90 L306.06,598.90 Z" fill="#a9cf5e" stroke="#9cc54f" stroke-width="0.5"/>
<path d="M322.72,591.90 L326.62,598.70 L318.82,598.70 Z" fill="#a9cf5e" stroke="#9cc54f" stroke-width="0.5"/>
<path d="M335.48,593.80 L339.38,600.60 L331.58,600.60 Z" fill="#a9cf5e" stroke="#9cc54f" stroke-width="0.5"/>
<path d="M348.24,595.30 L352.14,602.10 L344.34,602.10 Z" fill="#a9cf5e" stroke="#9cc54f" stroke-width="0.5"/>
<path d="M361.00,597.20 L364.90,604.00 L357.10,604.00 Z" fill="#a9cf5e" stroke="#9cc54f" stroke-width="0.5"/>
<path d="M373.76,599.60 L377.66,606.40 L369.86,606.40 Z" fill="#a9cf5e" stroke="#9cc54f" stroke-width="0.5"/>
<path d="M386.52,602.60 L390.42,609.40 L382.62,609.40 Z" fill="#a9cf5e" stroke="#9cc54f" stroke-width="0.5"/>
<path d="M399.28,602.60 L403.18,609.40 L395.38,609.40 Z" fill="#a9cf5e" stroke="#9cc54f" stroke-width="0.5"/>
<path d="M412.04,602.60 L415.94,609.40 L408.14,609.40 Z" fill="#a9cf5e" stroke="#9cc54f" stroke-width="0.5"/>
<path d="M424.80,602.40 L428.70,609.20 L420.90,609.20 Z" fill="#a9cf5e" stroke="#9cc54f" stroke-width="0.5"/>
<line x1="52.2" y1="545.6" x2="150.8" y2="546.0" stroke="#111" stroke-width="1.8"/>
<path d="M58.1,542.5 L52.7,545.6 L58.1,548.7" fill="none" stroke="#111" stroke-width="2.1" stroke-linejoin="miter" stroke-miterlimit="10"/>
<path d="M144.9,542.9 L150.3,546.0 L144.9,549.1" fill="none" stroke="#111" stroke-width="2.1" stroke-linejoin="miter" stroke-miterlimit="10"/>
<line x1="154.9" y1="546.2" x2="249.5" y2="547.8" stroke="#111" stroke-width="1.8"/>
<path d="M160.8,543.1 L155.4,546.2 L160.8,549.3" fill="none" stroke="#111" stroke-width="2.1" stroke-linejoin="miter" stroke-miterlimit="10"/>
<path d="M243.6,544.7 L249.0,547.8 L243.6,550.9" fill="none" stroke="#111" stroke-width="2.1" stroke-linejoin="miter" stroke-miterlimit="10"/>
<line x1="253.3" y1="547.6" x2="367.0" y2="547.8" stroke="#111" stroke-width="1.8"/>
<path d="M259.2,544.5 L253.8,547.6 L259.2,550.7" fill="none" stroke="#111" stroke-width="2.1" stroke-linejoin="miter" stroke-miterlimit="10"/>
<path d="M361.1,544.7 L366.5,547.8 L361.1,550.9" fill="none" stroke="#111" stroke-width="2.1" stroke-linejoin="miter" stroke-miterlimit="10"/>
<text x="117.6" y="538.9" text-anchor="middle" class="lb" textLength="19.0" lengthAdjust="spacingAndGlyphs">VLDL</text>
<text x="206.9" y="541.5" text-anchor="middle" class="lb" textLength="12.4" lengthAdjust="spacingAndGlyphs">LDL</text>
<text x="316.3" y="539.0" text-anchor="middle" class="lb" textLength="14.3" lengthAdjust="spacingAndGlyphs">HDL</text>
<rect x="398.5" y="522.8" width="71.2" height="51.7" fill="#fff" stroke="#7f7f7f" stroke-width="1.1"/>
<line x1="402.0" y1="532.5" x2="418.5" y2="532.5" stroke="#4b8fd8" stroke-width="2.4"/>
<ellipse cx="410.5" cy="532.5" rx="2.9" ry="2.3" fill="#cfe2f6" stroke="#4b8fd8" stroke-width="1.1"/>
<text x="419.0" y="535.5" class="lg" textLength="45.2" lengthAdjust="spacingAndGlyphs">NU Controls</text>
<line x1="402.0" y1="550.1" x2="418.5" y2="550.1" stroke="#dc5552" stroke-width="2.4"/>
<ellipse cx="410.5" cy="550.1" rx="2.9" ry="2.3" fill="#f6caca" stroke="#dc5552" stroke-width="1.1"/>
<text x="419.0" y="553.1" class="lg" textLength="45.2" lengthAdjust="spacingAndGlyphs">HU Controls</text>
<line x1="402.0" y1="567.2" x2="418.5" y2="567.2" stroke="#9cc54f" stroke-width="2.4"/>
<ellipse cx="410.5" cy="567.2" rx="2.9" ry="2.3" fill="#e0eec4" stroke="#9cc54f" stroke-width="1.1"/>
<text x="419.0" y="570.2" class="lg" textLength="41.7" lengthAdjust="spacingAndGlyphs">Gout Cases</text>
<text x="62.05" y="379.9" class="tt" textLength="65.90" lengthAdjust="spacingAndGlyphs">Triglyceride</text>
<text x="133.45" y="379.9" class="tt" textLength="47.70" lengthAdjust="spacingAndGlyphs">Patterns</text>
<text x="184.05" y="379.9" class="tt" textLength="11.40" lengthAdjust="spacingAndGlyphs">of</text>
<text x="198.75" y="379.9" class="tt" textLength="59.40" lengthAdjust="spacingAndGlyphs">Polynesian</text>
<text x="261.35" y="379.9" class="tt" textLength="28.00" lengthAdjust="spacingAndGlyphs">Gout</text>
<text x="292.15" y="379.9" class="tt" textLength="31.90" lengthAdjust="spacingAndGlyphs">Cases</text>
<text x="328.75" y="379.9" class="tt" textLength="22.10" lengthAdjust="spacingAndGlyphs">and</text>
<text x="353.35" y="379.9" class="tt" textLength="48.40" lengthAdjust="spacingAndGlyphs">Controls</text>
<text x="115.55" y="691.3" class="ax" textLength="17.40" lengthAdjust="spacingAndGlyphs">Fast</text>
<text x="135.65" y="691.3" class="ax" textLength="28.90" lengthAdjust="spacingAndGlyphs">Protein</text>
<text x="167.35" y="691.3" class="ax" textLength="24.20" lengthAdjust="spacingAndGlyphs">Liquid</text>
<text x="194.05" y="691.3" class="ax" textLength="80.90" lengthAdjust="spacingAndGlyphs">Chromatography</text>
<text x="277.45" y="691.3" class="ax" textLength="35.40" lengthAdjust="spacingAndGlyphs">Fraction</text>
<text x="315.55" y="691.3" class="ax" textLength="35.80" lengthAdjust="spacingAndGlyphs">Number</text>
<text transform="translate(8.70,580.65) rotate(-89.9)" x="0" y="0" class="ay" textLength="55.00" lengthAdjust="spacingAndGlyphs">Triglycerides</text>
<text transform="translate(8.70,524.65) rotate(-89.9)" x="0" y="0" class="ay" textLength="42.10" lengthAdjust="spacingAndGlyphs">(mmol/L)</text>
</svg>
</body></html>
